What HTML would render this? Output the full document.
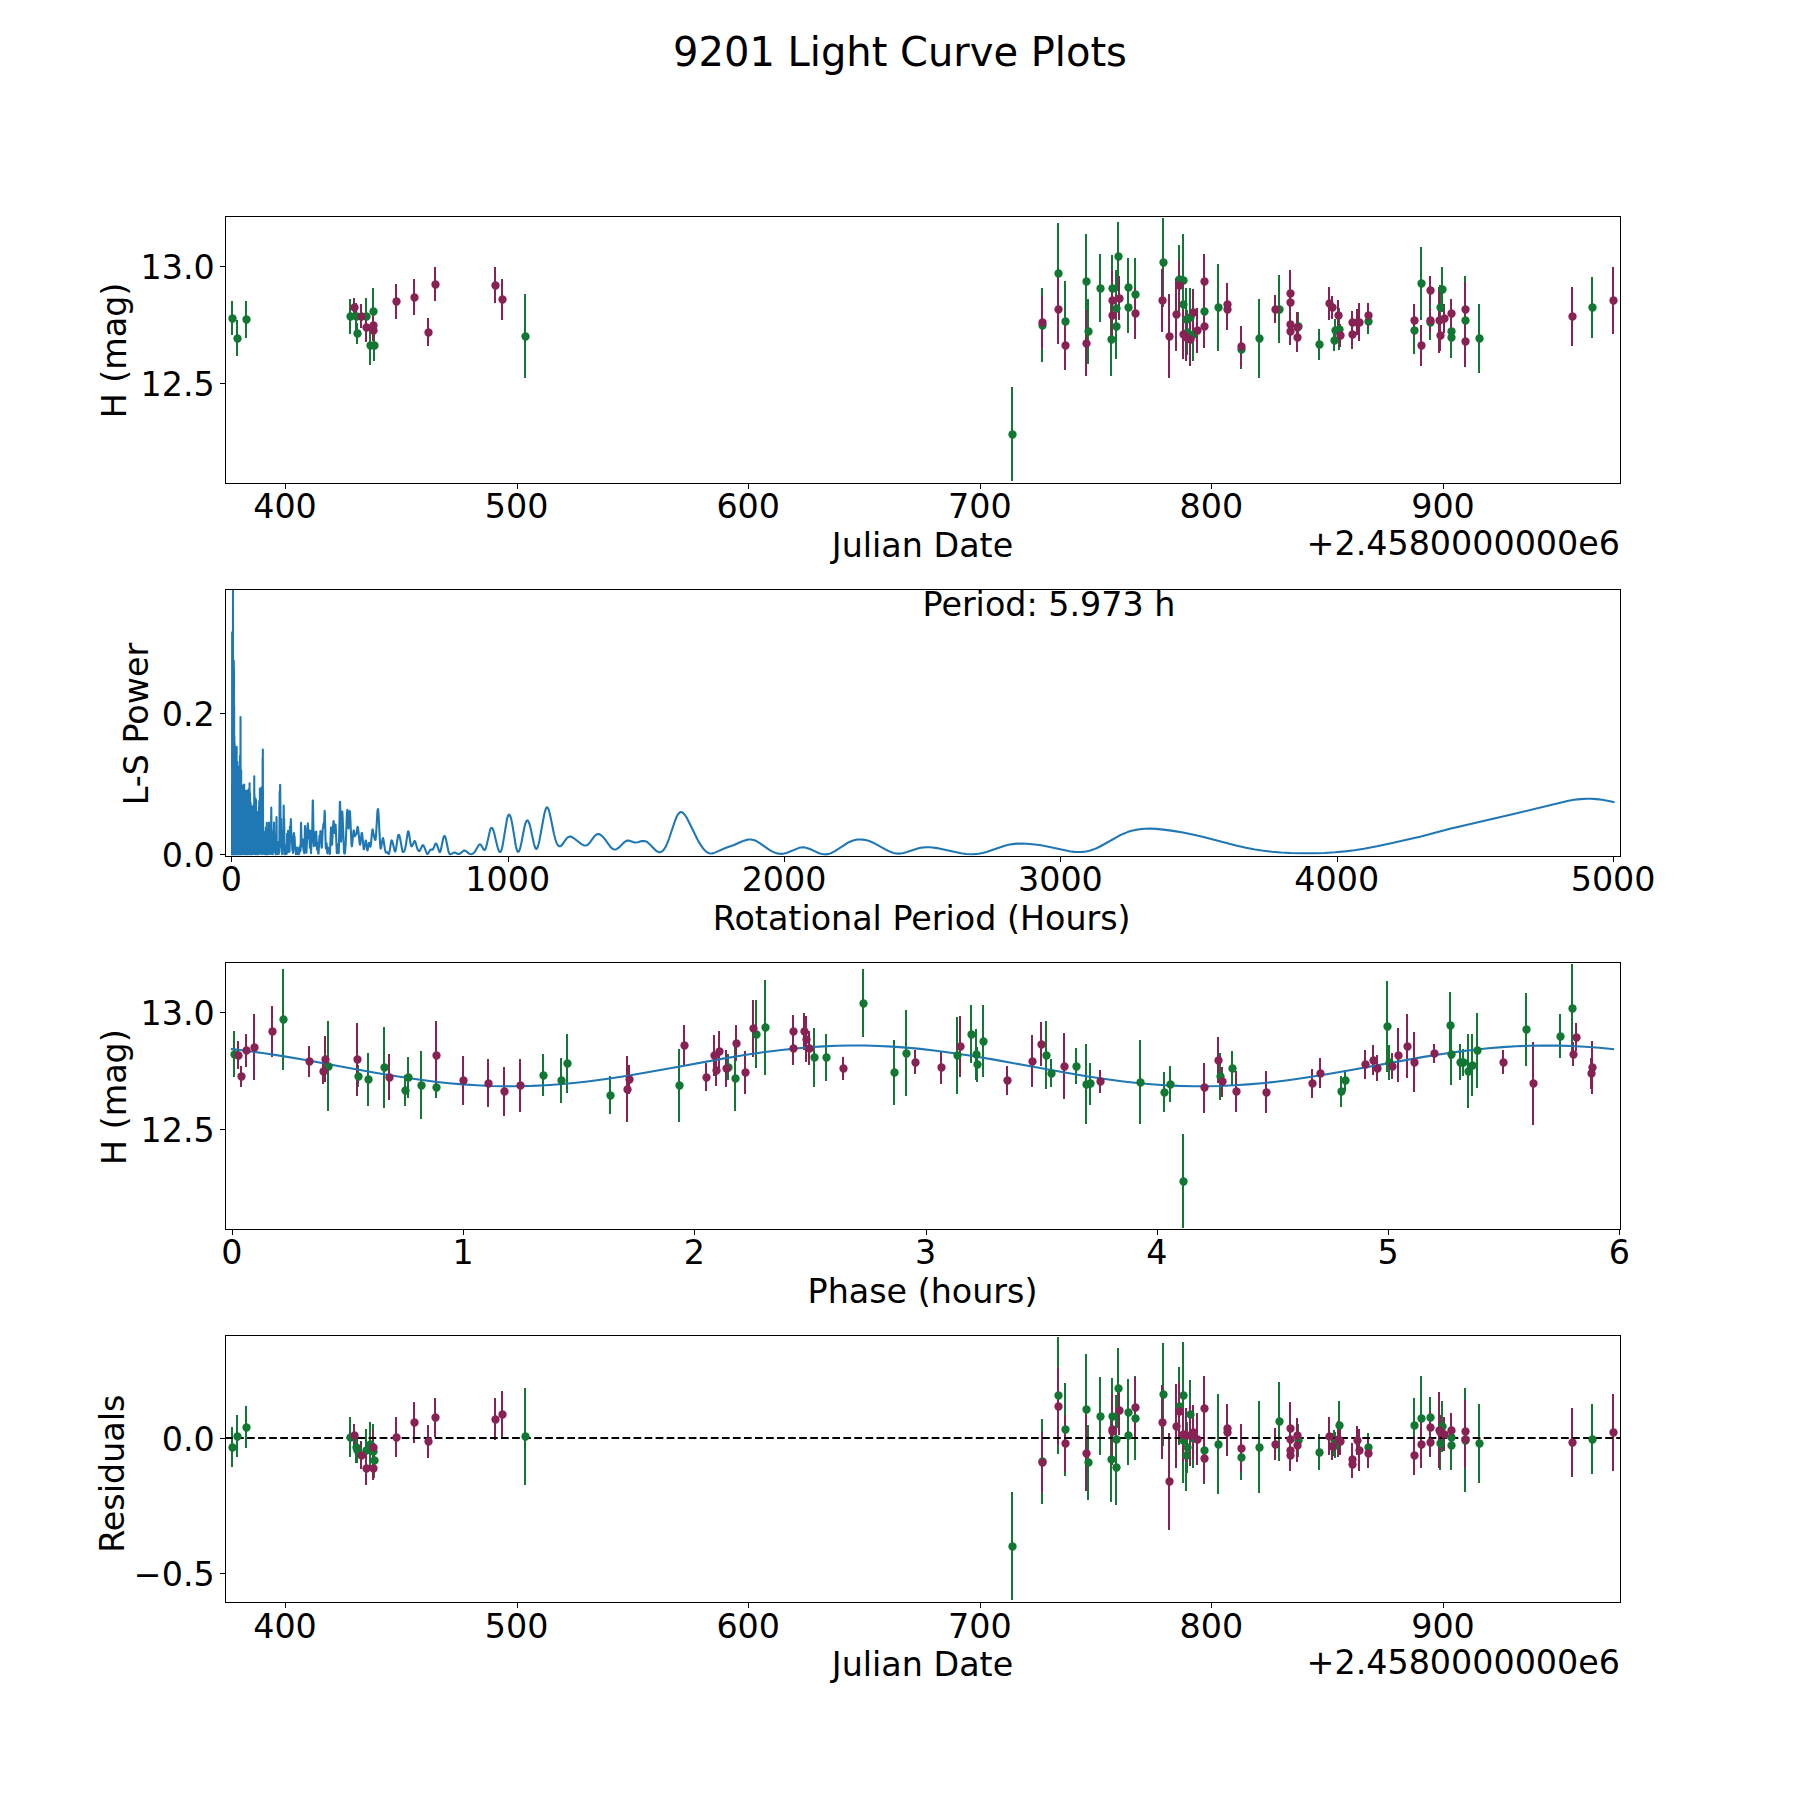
<!DOCTYPE html>
<html lang="en"><head><meta charset="utf-8"><title>9201 Light Curve Plots</title>
<style>html,body{margin:0;padding:0;background:#fff}svg{display:block}</style></head>
<body>
<svg width="1800" height="1800" viewBox="0 0 1296 1296">
 
 <style>*{stroke-linejoin:round;stroke-linecap:butt}
g[id^="LineCollection"] path,g[id^="patch_"] path,g[id^="xtick_"] use,g[id^="ytick_"] use{shape-rendering:crispEdges}
</style>
 <g id="figure_1">
  <g id="patch_1">
   <path d="M 0 1296 
L 1296 1296 
L 1296 0 
L 0 0 
z
" style="fill: #ffffff"/>
  </g>
  <g id="axes_1">
   <g id="patch_2">
    <path d="M 162 347.427 
L 1166.4 347.427 
L 1166.4 155.52 
L 162 155.52 
z
" style="fill: #ffffff"/>
   </g>
   <g id="matplotlib.axis_1">
    <g id="xtick_1">
     <g id="line2d_1">
      <defs>
       <path id="mb72ec5ad28" d="M 0 0 
L 0 3.888 
" style="stroke: #000000; stroke-width: 0.72"/>
      </defs>
      <g>
       <use href="#mb72ec5ad28" x="205.560" y="348.120" style="stroke: #000000; stroke-width: 0.72"/>
      </g>
     </g>
     <g id="text_1">
      <text style="font-size: 24px; font-family: 'DejaVu Sans', 'Liberation Sans', sans-serif; text-anchor: middle" x="205.2" y="373.051">400</text>
     </g>
    </g>
    <g id="xtick_2">
     <g id="line2d_2">
      <g>
       <use href="#mb72ec5ad28" x="372.600" y="348.120" style="stroke: #000000; stroke-width: 0.72"/>
      </g>
     </g>
     <g id="text_2">
      <text style="font-size: 24px; font-family: 'DejaVu Sans', 'Liberation Sans', sans-serif; text-anchor: middle" x="371.952" y="373.051">500</text>
     </g>
    </g>
    <g id="xtick_3">
     <g id="line2d_3">
      <g>
       <use href="#mb72ec5ad28" x="538.920" y="348.120" style="stroke: #000000; stroke-width: 0.72"/>
      </g>
     </g>
     <g id="text_3">
      <text style="font-size: 24px; font-family: 'DejaVu Sans', 'Liberation Sans', sans-serif; text-anchor: middle" x="538.704" y="373.051">600</text>
     </g>
    </g>
    <g id="xtick_4">
     <g id="line2d_4">
      <g>
       <use href="#mb72ec5ad28" x="705.960" y="348.120" style="stroke: #000000; stroke-width: 0.72"/>
      </g>
     </g>
     <g id="text_4">
      <text style="font-size: 24px; font-family: 'DejaVu Sans', 'Liberation Sans', sans-serif; text-anchor: middle" x="705.456" y="373.051">700</text>
     </g>
    </g>
    <g id="xtick_5">
     <g id="line2d_5">
      <g>
       <use href="#mb72ec5ad28" x="872.280" y="348.120" style="stroke: #000000; stroke-width: 0.72"/>
      </g>
     </g>
     <g id="text_5">
      <text style="font-size: 24px; font-family: 'DejaVu Sans', 'Liberation Sans', sans-serif; text-anchor: middle" x="872.208" y="373.051">800</text>
     </g>
    </g>
    <g id="xtick_6">
     <g id="line2d_6">
      <g>
       <use href="#mb72ec5ad28" x="1039.320" y="348.120" style="stroke: #000000; stroke-width: 0.72"/>
      </g>
     </g>
     <g id="text_6">
      <text style="font-size: 24px; font-family: 'DejaVu Sans', 'Liberation Sans', sans-serif; text-anchor: middle" x="1038.96" y="373.051">900</text>
     </g>
    </g>
    <g id="text_7">
     <text style="font-size: 24px; font-family: 'DejaVu Sans', 'Liberation Sans', sans-serif; text-anchor: middle" x="664.200" y="401.143">Julian Date</text>
    </g>
    <g id="text_8">
     <text style="font-size: 24px; font-family: 'DejaVu Sans', 'Liberation Sans', sans-serif; text-anchor: end" x="1166.4" y="399.279">+2.4580000000e6</text>
    </g>
   </g>
   <g id="matplotlib.axis_2">
    <g id="ytick_1">
     <g id="line2d_7">
      <defs>
       <path id="m1af1ae3523" d="M 0 0 
L -3.888 0 
" style="stroke: #000000; stroke-width: 0.72"/>
      </defs>
      <g>
       <use href="#m1af1ae3523" x="162.360" y="276.120" style="stroke: #000000; stroke-width: 0.72"/>
      </g>
     </g>
     <g id="text_9">
      <text style="font-size: 24px; font-family: 'DejaVu Sans', 'Liberation Sans', sans-serif; text-anchor: end" x="154.612" y="284.950">12.5</text>
     </g>
    </g>
    <g id="ytick_2">
     <g id="line2d_8">
      <g>
       <use href="#m1af1ae3523" x="162.360" y="191.880" style="stroke: #000000; stroke-width: 0.72"/>
      </g>
     </g>
     <g id="text_10">
      <text style="font-size: 24px; font-family: 'DejaVu Sans', 'Liberation Sans', sans-serif; text-anchor: end" x="154.612" y="200.566">13.0</text>
     </g>
    </g>
    <g id="text_11">
     <text style="font-size: 24px; font-family: 'DejaVu Sans', 'Liberation Sans', sans-serif; text-anchor: middle" x="90.959" y="252.338" transform="rotate(-90 90.959 252.338)">H (mag)</text>
    </g>
   </g>
   <g id="LineCollection_1">
    <path d="M 167.04 216.828 
L 167.04 241.524 
" clip-path="url(#p9b063a7ad4)" style="fill: none; stroke: #117733; stroke-width: 1.44"/>
    <path d="M 170.64 230.652 
L 170.64 256.5 
" clip-path="url(#p9b063a7ad4)" style="fill: none; stroke: #117733; stroke-width: 1.44"/>
    <path d="M 177.12 216.792 
L 177.12 243.288 
" clip-path="url(#p9b063a7ad4)" style="fill: none; stroke: #117733; stroke-width: 1.44"/>
    <path d="M 252 215.352 
L 252 240.408 
" clip-path="url(#p9b063a7ad4)" style="fill: none; stroke: #117733; stroke-width: 1.44"/>
    <path d="M 256.32 218.088 
L 256.32 237.672 
" clip-path="url(#p9b063a7ad4)" style="fill: none; stroke: #117733; stroke-width: 1.44"/>
    <path d="M 257.04 232.38 
L 257.04 247.86 
" clip-path="url(#p9b063a7ad4)" style="fill: none; stroke: #117733; stroke-width: 1.44"/>
    <path d="M 263.52 214.776 
L 263.52 240.984 
" clip-path="url(#p9b063a7ad4)" style="fill: none; stroke: #117733; stroke-width: 1.44"/>
    <path d="M 268.56 207.216 
L 268.56 241.344 
" clip-path="url(#p9b063a7ad4)" style="fill: none; stroke: #117733; stroke-width: 1.44"/>
    <path d="M 266.4 234.432 
L 266.4 263.088 
" clip-path="url(#p9b063a7ad4)" style="fill: none; stroke: #117733; stroke-width: 1.44"/>
    <path d="M 269.28 237.636 
L 269.28 259.884 
" clip-path="url(#p9b063a7ad4)" style="fill: none; stroke: #117733; stroke-width: 1.44"/>
    <path d="M 378 211.536 
L 378 272.304 
" clip-path="url(#p9b063a7ad4)" style="fill: none; stroke: #117733; stroke-width: 1.44"/>
    <path d="M 728.64 278.856 
L 728.64 346.392 
" clip-path="url(#p9b063a7ad4)" style="fill: none; stroke: #117733; stroke-width: 1.44"/>
    <path d="M 750.24 207.612 
L 750.24 260.676 
" clip-path="url(#p9b063a7ad4)" style="fill: none; stroke: #117733; stroke-width: 1.44"/>
    <path d="M 761.76 160.236 
L 761.76 233.604 
" clip-path="url(#p9b063a7ad4)" style="fill: none; stroke: #117733; stroke-width: 1.44"/>
    <path d="M 766.8 202.176 
L 766.8 260.64 
" clip-path="url(#p9b063a7ad4)" style="fill: none; stroke: #117733; stroke-width: 1.44"/>
    <path d="M 781.92 168.156 
L 781.92 237.204 
" clip-path="url(#p9b063a7ad4)" style="fill: none; stroke: #117733; stroke-width: 1.44"/>
    <path d="M 783.36 215.136 
L 783.36 262.08 
" clip-path="url(#p9b063a7ad4)" style="fill: none; stroke: #117733; stroke-width: 1.44"/>
    <path d="M 792 183.168 
L 792 231.984 
" clip-path="url(#p9b063a7ad4)" style="fill: none; stroke: #117733; stroke-width: 1.44"/>
    <path d="M 800.64 183.456 
L 800.64 231.696 
" clip-path="url(#p9b063a7ad4)" style="fill: none; stroke: #117733; stroke-width: 1.44"/>
    <path d="M 804.96 159.876 
L 804.96 209.484 
" clip-path="url(#p9b063a7ad4)" style="fill: none; stroke: #117733; stroke-width: 1.44"/>
    <path d="M 803.52 194.184 
L 803.52 249.768 
" clip-path="url(#p9b063a7ad4)" style="fill: none; stroke: #117733; stroke-width: 1.44"/>
    <path d="M 803.52 211.356 
L 803.52 258.66 
" clip-path="url(#p9b063a7ad4)" style="fill: none; stroke: #117733; stroke-width: 1.44"/>
    <path d="M 799.92 218.304 
L 799.92 270.864 
" clip-path="url(#p9b063a7ad4)" style="fill: none; stroke: #117733; stroke-width: 1.44"/>
    <path d="M 812.16 185.976 
L 812.16 228.024 
" clip-path="url(#p9b063a7ad4)" style="fill: none; stroke: #117733; stroke-width: 1.44"/>
    <path d="M 812.16 202.824 
L 812.16 239.688 
" clip-path="url(#p9b063a7ad4)" style="fill: none; stroke: #117733; stroke-width: 1.44"/>
    <path d="M 817.2 185.796 
L 817.2 238.284 
" clip-path="url(#p9b063a7ad4)" style="fill: none; stroke: #117733; stroke-width: 1.44"/>
    <path d="M 837.36 156.852 
L 837.36 221.148 
" clip-path="url(#p9b063a7ad4)" style="fill: none; stroke: #117733; stroke-width: 1.44"/>
    <path d="M 848.88 176.58 
L 848.88 225.18 
" clip-path="url(#p9b063a7ad4)" style="fill: none; stroke: #117733; stroke-width: 1.44"/>
    <path d="M 851.76 168.696 
L 851.76 234.504 
" clip-path="url(#p9b063a7ad4)" style="fill: none; stroke: #117733; stroke-width: 1.44"/>
    <path d="M 851.76 192.204 
L 851.76 246.132 
" clip-path="url(#p9b063a7ad4)" style="fill: none; stroke: #117733; stroke-width: 1.44"/>
    <path d="M 853.92 207.54 
L 853.92 252.108 
" clip-path="url(#p9b063a7ad4)" style="fill: none; stroke: #117733; stroke-width: 1.44"/>
    <path d="M 856.8 207.36 
L 856.8 249.984 
" clip-path="url(#p9b063a7ad4)" style="fill: none; stroke: #117733; stroke-width: 1.44"/>
    <path d="M 858.96 221.688 
L 858.96 259.704 
" clip-path="url(#p9b063a7ad4)" style="fill: none; stroke: #117733; stroke-width: 1.44"/>
    <path d="M 854.64 223.416 
L 854.64 255.672 
" clip-path="url(#p9b063a7ad4)" style="fill: none; stroke: #117733; stroke-width: 1.44"/>
    <path d="M 866.88 203.076 
L 866.88 245.34 
" clip-path="url(#p9b063a7ad4)" style="fill: none; stroke: #117733; stroke-width: 1.44"/>
    <path d="M 876.96 190.152 
L 876.96 252.648 
" clip-path="url(#p9b063a7ad4)" style="fill: none; stroke: #117733; stroke-width: 1.44"/>
    <path d="M 893.52 237.78 
L 893.52 265.356 
" clip-path="url(#p9b063a7ad4)" style="fill: none; stroke: #117733; stroke-width: 1.44"/>
    <path d="M 906.48 214.92 
L 906.48 272.376 
" clip-path="url(#p9b063a7ad4)" style="fill: none; stroke: #117733; stroke-width: 1.44"/>
    <path d="M 920.88 198.252 
L 920.88 247.14 
" clip-path="url(#p9b063a7ad4)" style="fill: none; stroke: #117733; stroke-width: 1.44"/>
    <path d="M 934.56 224.496 
L 934.56 244.944 
" clip-path="url(#p9b063a7ad4)" style="fill: none; stroke: #117733; stroke-width: 1.44"/>
    <path d="M 949.68 236.664 
L 949.68 259.128 
" clip-path="url(#p9b063a7ad4)" style="fill: none; stroke: #117733; stroke-width: 1.44"/>
    <path d="M 961.2 229.932 
L 961.2 245.988 
" clip-path="url(#p9b063a7ad4)" style="fill: none; stroke: #117733; stroke-width: 1.44"/>
    <path d="M 964.08 221.868 
L 964.08 251.892 
" clip-path="url(#p9b063a7ad4)" style="fill: none; stroke: #117733; stroke-width: 1.44"/>
    <path d="M 960.48 237.276 
L 960.48 253.044 
" clip-path="url(#p9b063a7ad4)" style="fill: none; stroke: #117733; stroke-width: 1.44"/>
    <path d="M 984.96 222.408 
L 984.96 240.552 
" clip-path="url(#p9b063a7ad4)" style="fill: none; stroke: #117733; stroke-width: 1.44"/>
    <path d="M 1018.08 220.824 
L 1018.08 255.096 
" clip-path="url(#p9b063a7ad4)" style="fill: none; stroke: #117733; stroke-width: 1.44"/>
    <path d="M 1023.12 177.516 
L 1023.12 230.292 
" clip-path="url(#p9b063a7ad4)" style="fill: none; stroke: #117733; stroke-width: 1.44"/>
    <path d="M 1029.6 219.564 
L 1029.6 244.692 
" clip-path="url(#p9b063a7ad4)" style="fill: none; stroke: #117733; stroke-width: 1.44"/>
    <path d="M 1038.24 192.456 
L 1038.24 224.424 
" clip-path="url(#p9b063a7ad4)" style="fill: none; stroke: #117733; stroke-width: 1.44"/>
    <path d="M 1036.8 204.876 
L 1036.8 237.924 
" clip-path="url(#p9b063a7ad4)" style="fill: none; stroke: #117733; stroke-width: 1.44"/>
    <path d="M 1044.72 223.632 
L 1044.72 253.008 
" clip-path="url(#p9b063a7ad4)" style="fill: none; stroke: #117733; stroke-width: 1.44"/>
    <path d="M 1044.72 227.88 
L 1044.72 258.12 
" clip-path="url(#p9b063a7ad4)" style="fill: none; stroke: #117733; stroke-width: 1.44"/>
    <path d="M 1054.8 198.396 
L 1054.8 263.124 
" clip-path="url(#p9b063a7ad4)" style="fill: none; stroke: #117733; stroke-width: 1.44"/>
    <path d="M 1064.88 218.88 
L 1064.88 268.416 
" clip-path="url(#p9b063a7ad4)" style="fill: none; stroke: #117733; stroke-width: 1.44"/>
    <path d="M 1146.24 199.44 
L 1146.24 243.36 
" clip-path="url(#p9b063a7ad4)" style="fill: none; stroke: #117733; stroke-width: 1.44"/>
   </g>
   <g id="LineCollection_2">
    <path d="M 254.88 214.236 
L 254.88 228.564 
" clip-path="url(#p9b063a7ad4)" style="fill: none; stroke: #882255; stroke-width: 1.44"/>
    <path d="M 259.92 219.132 
L 259.92 236.34 
" clip-path="url(#p9b063a7ad4)" style="fill: none; stroke: #882255; stroke-width: 1.44"/>
    <path d="M 263.52 225.324 
L 263.52 246.276 
" clip-path="url(#p9b063a7ad4)" style="fill: none; stroke: #882255; stroke-width: 1.44"/>
    <path d="M 268.56 223.092 
L 268.56 244.908 
" clip-path="url(#p9b063a7ad4)" style="fill: none; stroke: #882255; stroke-width: 1.44"/>
    <path d="M 268.56 230.544 
L 268.56 245.376 
" clip-path="url(#p9b063a7ad4)" style="fill: none; stroke: #882255; stroke-width: 1.44"/>
    <path d="M 285.12 204.66 
L 285.12 229.5 
" clip-path="url(#p9b063a7ad4)" style="fill: none; stroke: #882255; stroke-width: 1.44"/>
    <path d="M 298.08 201.06 
L 298.08 226.62 
" clip-path="url(#p9b063a7ad4)" style="fill: none; stroke: #882255; stroke-width: 1.44"/>
    <path d="M 308.16 228.96 
L 308.16 249.408 
" clip-path="url(#p9b063a7ad4)" style="fill: none; stroke: #882255; stroke-width: 1.44"/>
    <path d="M 313.2 192.564 
L 313.2 216.972 
" clip-path="url(#p9b063a7ad4)" style="fill: none; stroke: #882255; stroke-width: 1.44"/>
    <path d="M 356.4 192.204 
L 356.4 218.484 
" clip-path="url(#p9b063a7ad4)" style="fill: none; stroke: #882255; stroke-width: 1.44"/>
    <path d="M 361.44 200.556 
L 361.44 230.292 
" clip-path="url(#p9b063a7ad4)" style="fill: none; stroke: #882255; stroke-width: 1.44"/>
    <path d="M 750.24 213.048 
L 750.24 251.064 
" clip-path="url(#p9b063a7ad4)" style="fill: none; stroke: #882255; stroke-width: 1.44"/>
    <path d="M 761.76 197.928 
L 761.76 247.608 
" clip-path="url(#p9b063a7ad4)" style="fill: none; stroke: #882255; stroke-width: 1.44"/>
    <path d="M 766.8 230.976 
L 766.8 266.4 
" clip-path="url(#p9b063a7ad4)" style="fill: none; stroke: #882255; stroke-width: 1.44"/>
    <path d="M 781.92 223.524 
L 781.92 270.828 
" clip-path="url(#p9b063a7ad4)" style="fill: none; stroke: #882255; stroke-width: 1.44"/>
    <path d="M 800.64 194.184 
L 800.64 238.248 
" clip-path="url(#p9b063a7ad4)" style="fill: none; stroke: #882255; stroke-width: 1.44"/>
    <path d="M 805.68 199.008 
L 805.68 230.4 
" clip-path="url(#p9b063a7ad4)" style="fill: none; stroke: #882255; stroke-width: 1.44"/>
    <path d="M 800.64 210.816 
L 800.64 243.648 
" clip-path="url(#p9b063a7ad4)" style="fill: none; stroke: #882255; stroke-width: 1.44"/>
    <path d="M 817.2 207.072 
L 817.2 244.368 
" clip-path="url(#p9b063a7ad4)" style="fill: none; stroke: #882255; stroke-width: 1.44"/>
    <path d="M 836.64 193.356 
L 836.64 239.22 
" clip-path="url(#p9b063a7ad4)" style="fill: none; stroke: #882255; stroke-width: 1.44"/>
    <path d="M 841.68 212.04 
L 841.68 272.376 
" clip-path="url(#p9b063a7ad4)" style="fill: none; stroke: #882255; stroke-width: 1.44"/>
    <path d="M 846.72 200.124 
L 846.72 252.612 
" clip-path="url(#p9b063a7ad4)" style="fill: none; stroke: #882255; stroke-width: 1.44"/>
    <path d="M 848.88 186.876 
L 848.88 223.524 
" clip-path="url(#p9b063a7ad4)" style="fill: none; stroke: #882255; stroke-width: 1.44"/>
    <path d="M 858.96 208.224 
L 858.96 241.92 
" clip-path="url(#p9b063a7ad4)" style="fill: none; stroke: #882255; stroke-width: 1.44"/>
    <path d="M 851.76 223.128 
L 851.76 258.264 
" clip-path="url(#p9b063a7ad4)" style="fill: none; stroke: #882255; stroke-width: 1.44"/>
    <path d="M 853.92 225.504 
L 853.92 259.776 
" clip-path="url(#p9b063a7ad4)" style="fill: none; stroke: #882255; stroke-width: 1.44"/>
    <path d="M 856.8 225.108 
L 856.8 263.484 
" clip-path="url(#p9b063a7ad4)" style="fill: none; stroke: #882255; stroke-width: 1.44"/>
    <path d="M 861.84 221.616 
L 861.84 254.16 
" clip-path="url(#p9b063a7ad4)" style="fill: none; stroke: #882255; stroke-width: 1.44"/>
    <path d="M 866.88 182.52 
L 866.88 222.84 
" clip-path="url(#p9b063a7ad4)" style="fill: none; stroke: #882255; stroke-width: 1.44"/>
    <path d="M 866.88 219.492 
L 866.88 250.524 
" clip-path="url(#p9b063a7ad4)" style="fill: none; stroke: #882255; stroke-width: 1.44"/>
    <path d="M 883.44 204.084 
L 883.44 233.964 
" clip-path="url(#p9b063a7ad4)" style="fill: none; stroke: #882255; stroke-width: 1.44"/>
    <path d="M 883.44 208.368 
L 883.44 237.744 
" clip-path="url(#p9b063a7ad4)" style="fill: none; stroke: #882255; stroke-width: 1.44"/>
    <path d="M 893.52 234.648 
L 893.52 264.456 
" clip-path="url(#p9b063a7ad4)" style="fill: none; stroke: #882255; stroke-width: 1.44"/>
    <path d="M 918 212.724 
L 918 232.668 
" clip-path="url(#p9b063a7ad4)" style="fill: none; stroke: #882255; stroke-width: 1.44"/>
    <path d="M 928.8 194.616 
L 928.8 228.024 
" clip-path="url(#p9b063a7ad4)" style="fill: none; stroke: #882255; stroke-width: 1.44"/>
    <path d="M 928.8 206.064 
L 928.8 229.536 
" clip-path="url(#p9b063a7ad4)" style="fill: none; stroke: #882255; stroke-width: 1.44"/>
    <path d="M 928.8 224.532 
L 928.8 242.748 
" clip-path="url(#p9b063a7ad4)" style="fill: none; stroke: #882255; stroke-width: 1.44"/>
    <path d="M 928.8 228.78 
L 928.8 248.58 
" clip-path="url(#p9b063a7ad4)" style="fill: none; stroke: #882255; stroke-width: 1.44"/>
    <path d="M 933.84 224.316 
L 933.84 246.564 
" clip-path="url(#p9b063a7ad4)" style="fill: none; stroke: #882255; stroke-width: 1.44"/>
    <path d="M 933.84 232.452 
L 933.84 253.548 
" clip-path="url(#p9b063a7ad4)" style="fill: none; stroke: #882255; stroke-width: 1.44"/>
    <path d="M 956.88 206.64 
L 956.88 230.4 
" clip-path="url(#p9b063a7ad4)" style="fill: none; stroke: #882255; stroke-width: 1.44"/>
    <path d="M 959.04 212.868 
L 959.04 229.644 
" clip-path="url(#p9b063a7ad4)" style="fill: none; stroke: #882255; stroke-width: 1.44"/>
    <path d="M 963.36 215.676 
L 963.36 238.644 
" clip-path="url(#p9b063a7ad4)" style="fill: none; stroke: #882255; stroke-width: 1.44"/>
    <path d="M 964.8 233.388 
L 964.8 249.732 
" clip-path="url(#p9b063a7ad4)" style="fill: none; stroke: #882255; stroke-width: 1.44"/>
    <path d="M 973.44 223.956 
L 973.44 240.444 
" clip-path="url(#p9b063a7ad4)" style="fill: none; stroke: #882255; stroke-width: 1.44"/>
    <path d="M 973.44 230.436 
L 973.44 251.244 
" clip-path="url(#p9b063a7ad4)" style="fill: none; stroke: #882255; stroke-width: 1.44"/>
    <path d="M 977.04 222.768 
L 977.04 240.912 
" clip-path="url(#p9b063a7ad4)" style="fill: none; stroke: #882255; stroke-width: 1.44"/>
    <path d="M 978.48 218.448 
L 978.48 245.232 
" clip-path="url(#p9b063a7ad4)" style="fill: none; stroke: #882255; stroke-width: 1.44"/>
    <path d="M 984.96 218.304 
L 984.96 236.016 
" clip-path="url(#p9b063a7ad4)" style="fill: none; stroke: #882255; stroke-width: 1.44"/>
    <path d="M 1018.08 218.844 
L 1018.08 242.676 
" clip-path="url(#p9b063a7ad4)" style="fill: none; stroke: #882255; stroke-width: 1.44"/>
    <path d="M 1023.12 233.712 
L 1023.12 263.376 
" clip-path="url(#p9b063a7ad4)" style="fill: none; stroke: #882255; stroke-width: 1.44"/>
    <path d="M 1029.6 198.756 
L 1029.6 219.564 
" clip-path="url(#p9b063a7ad4)" style="fill: none; stroke: #882255; stroke-width: 1.44"/>
    <path d="M 1029.6 221.508 
L 1029.6 240.012 
" clip-path="url(#p9b063a7ad4)" style="fill: none; stroke: #882255; stroke-width: 1.44"/>
    <path d="M 1036.08 206.928 
L 1036.08 254.304 
" clip-path="url(#p9b063a7ad4)" style="fill: none; stroke: #882255; stroke-width: 1.44"/>
    <path d="M 1039.68 218.664 
L 1039.68 239.688 
" clip-path="url(#p9b063a7ad4)" style="fill: none; stroke: #882255; stroke-width: 1.44"/>
    <path d="M 1036.8 230.544 
L 1036.8 252.576 
" clip-path="url(#p9b063a7ad4)" style="fill: none; stroke: #882255; stroke-width: 1.44"/>
    <path d="M 1044.72 214.956 
L 1044.72 236.484 
" clip-path="url(#p9b063a7ad4)" style="fill: none; stroke: #882255; stroke-width: 1.44"/>
    <path d="M 1054.8 203.256 
L 1054.8 242.424 
" clip-path="url(#p9b063a7ad4)" style="fill: none; stroke: #882255; stroke-width: 1.44"/>
    <path d="M 1054.8 227.772 
L 1054.8 263.988 
" clip-path="url(#p9b063a7ad4)" style="fill: none; stroke: #882255; stroke-width: 1.44"/>
    <path d="M 1131.84 206.28 
L 1131.84 249.192 
" clip-path="url(#p9b063a7ad4)" style="fill: none; stroke: #882255; stroke-width: 1.44"/>
    <path d="M 1161.36 192.276 
L 1161.36 240.444 
" clip-path="url(#p9b063a7ad4)" style="fill: none; stroke: #882255; stroke-width: 1.44"/>
   </g>
   <g id="line2d_9">
    <defs>
     <path id="m9075a9afd1" d="M 0 3 
C 0.795 3 1.558 2.683 2.121 2.121 
C 2.683 1.558 3 0.795 3 0 
C 3 -0.795 2.683 -1.558 2.121 -2.121 
C 1.558 -2.683 0.795 -3 0 -3 
C -0.795 -3 -1.558 -2.683 -2.121 -2.121 
C -2.683 -1.558 -3 -0.795 -3 0 
C -3 0.795 -2.683 1.558 -2.121 2.121 
C -1.558 2.683 -0.795 3 0 3 
z
"/>
    </defs>
    <g clip-path="url(#p9b063a7ad4)">
     <use href="#m9075a9afd1" x="167.4" y="229.32" style="fill: #117733"/>
     <use href="#m9075a9afd1" x="171" y="243.72" style="fill: #117733"/>
     <use href="#m9075a9afd1" x="177.48" y="230.04" style="fill: #117733"/>
     <use href="#m9075a9afd1" x="252.36" y="227.88" style="fill: #117733"/>
     <use href="#m9075a9afd1" x="256.68" y="227.88" style="fill: #117733"/>
     <use href="#m9075a9afd1" x="257.4" y="240.12" style="fill: #117733"/>
     <use href="#m9075a9afd1" x="263.88" y="227.88" style="fill: #117733"/>
     <use href="#m9075a9afd1" x="268.92" y="224.28" style="fill: #117733"/>
     <use href="#m9075a9afd1" x="266.76" y="248.76" style="fill: #117733"/>
     <use href="#m9075a9afd1" x="269.64" y="248.76" style="fill: #117733"/>
     <use href="#m9075a9afd1" x="378.36" y="242.28" style="fill: #117733"/>
     <use href="#m9075a9afd1" x="729" y="312.84" style="fill: #117733"/>
     <use href="#m9075a9afd1" x="750.6" y="234.36" style="fill: #117733"/>
     <use href="#m9075a9afd1" x="762.12" y="196.92" style="fill: #117733"/>
     <use href="#m9075a9afd1" x="767.16" y="231.48" style="fill: #117733"/>
     <use href="#m9075a9afd1" x="782.28" y="202.68" style="fill: #117733"/>
     <use href="#m9075a9afd1" x="783.72" y="238.68" style="fill: #117733"/>
     <use href="#m9075a9afd1" x="792.36" y="207.72" style="fill: #117733"/>
     <use href="#m9075a9afd1" x="801" y="207.72" style="fill: #117733"/>
     <use href="#m9075a9afd1" x="805.32" y="184.68" style="fill: #117733"/>
     <use href="#m9075a9afd1" x="803.88" y="222.12" style="fill: #117733"/>
     <use href="#m9075a9afd1" x="803.88" y="235.08" style="fill: #117733"/>
     <use href="#m9075a9afd1" x="800.28" y="244.44" style="fill: #117733"/>
     <use href="#m9075a9afd1" x="812.52" y="207" style="fill: #117733"/>
     <use href="#m9075a9afd1" x="812.52" y="221.4" style="fill: #117733"/>
     <use href="#m9075a9afd1" x="817.56" y="212.04" style="fill: #117733"/>
     <use href="#m9075a9afd1" x="837.72" y="189" style="fill: #117733"/>
     <use href="#m9075a9afd1" x="849.24" y="201.24" style="fill: #117733"/>
     <use href="#m9075a9afd1" x="852.12" y="201.96" style="fill: #117733"/>
     <use href="#m9075a9afd1" x="852.12" y="219.24" style="fill: #117733"/>
     <use href="#m9075a9afd1" x="854.28" y="230.04" style="fill: #117733"/>
     <use href="#m9075a9afd1" x="857.16" y="228.6" style="fill: #117733"/>
     <use href="#m9075a9afd1" x="859.32" y="240.84" style="fill: #117733"/>
     <use href="#m9075a9afd1" x="855" y="239.4" style="fill: #117733"/>
     <use href="#m9075a9afd1" x="867.24" y="224.28" style="fill: #117733"/>
     <use href="#m9075a9afd1" x="877.32" y="221.4" style="fill: #117733"/>
     <use href="#m9075a9afd1" x="893.88" y="251.64" style="fill: #117733"/>
     <use href="#m9075a9afd1" x="906.84" y="243.72" style="fill: #117733"/>
     <use href="#m9075a9afd1" x="921.24" y="222.84" style="fill: #117733"/>
     <use href="#m9075a9afd1" x="934.92" y="235.08" style="fill: #117733"/>
     <use href="#m9075a9afd1" x="950.04" y="248.04" style="fill: #117733"/>
     <use href="#m9075a9afd1" x="961.56" y="237.96" style="fill: #117733"/>
     <use href="#m9075a9afd1" x="964.44" y="237.24" style="fill: #117733"/>
     <use href="#m9075a9afd1" x="960.84" y="245.16" style="fill: #117733"/>
     <use href="#m9075a9afd1" x="985.32" y="231.48" style="fill: #117733"/>
     <use href="#m9075a9afd1" x="1018.44" y="237.96" style="fill: #117733"/>
     <use href="#m9075a9afd1" x="1023.48" y="204.12" style="fill: #117733"/>
     <use href="#m9075a9afd1" x="1029.96" y="232.2" style="fill: #117733"/>
     <use href="#m9075a9afd1" x="1038.6" y="208.44" style="fill: #117733"/>
     <use href="#m9075a9afd1" x="1037.16" y="221.4" style="fill: #117733"/>
     <use href="#m9075a9afd1" x="1045.08" y="238.68" style="fill: #117733"/>
     <use href="#m9075a9afd1" x="1045.08" y="243" style="fill: #117733"/>
     <use href="#m9075a9afd1" x="1055.16" y="230.76" style="fill: #117733"/>
     <use href="#m9075a9afd1" x="1065.24" y="243.72" style="fill: #117733"/>
     <use href="#m9075a9afd1" x="1146.6" y="221.4" style="fill: #117733"/>
    </g>
   </g>
   <g id="line2d_10">
    <defs>
     <path id="m77076dbbe6" d="M 0 3 
C 0.795 3 1.558 2.683 2.121 2.121 
C 2.683 1.558 3 0.795 3 0 
C 3 -0.795 2.683 -1.558 2.121 -2.121 
C 1.558 -2.683 0.795 -3 0 -3 
C -0.795 -3 -1.558 -2.683 -2.121 -2.121 
C -2.683 -1.558 -3 -0.795 -3 0 
C -3 0.795 -2.683 1.558 -2.121 2.121 
C -1.558 2.683 -0.795 3 0 3 
z
"/>
    </defs>
    <g clip-path="url(#p9b063a7ad4)">
     <use href="#m77076dbbe6" x="255.24" y="221.4" style="fill: #882255"/>
     <use href="#m77076dbbe6" x="260.28" y="227.88" style="fill: #882255"/>
     <use href="#m77076dbbe6" x="263.88" y="235.8" style="fill: #882255"/>
     <use href="#m77076dbbe6" x="268.92" y="234.36" style="fill: #882255"/>
     <use href="#m77076dbbe6" x="268.92" y="237.96" style="fill: #882255"/>
     <use href="#m77076dbbe6" x="285.48" y="217.08" style="fill: #882255"/>
     <use href="#m77076dbbe6" x="298.44" y="214.2" style="fill: #882255"/>
     <use href="#m77076dbbe6" x="308.52" y="239.4" style="fill: #882255"/>
     <use href="#m77076dbbe6" x="313.56" y="204.84" style="fill: #882255"/>
     <use href="#m77076dbbe6" x="356.76" y="205.56" style="fill: #882255"/>
     <use href="#m77076dbbe6" x="361.8" y="215.64" style="fill: #882255"/>
     <use href="#m77076dbbe6" x="750.6" y="232.2" style="fill: #882255"/>
     <use href="#m77076dbbe6" x="762.12" y="222.84" style="fill: #882255"/>
     <use href="#m77076dbbe6" x="767.16" y="248.76" style="fill: #882255"/>
     <use href="#m77076dbbe6" x="782.28" y="247.32" style="fill: #882255"/>
     <use href="#m77076dbbe6" x="801" y="216.36" style="fill: #882255"/>
     <use href="#m77076dbbe6" x="806.04" y="214.92" style="fill: #882255"/>
     <use href="#m77076dbbe6" x="801" y="227.16" style="fill: #882255"/>
     <use href="#m77076dbbe6" x="817.56" y="225.72" style="fill: #882255"/>
     <use href="#m77076dbbe6" x="837" y="216.36" style="fill: #882255"/>
     <use href="#m77076dbbe6" x="842.04" y="242.28" style="fill: #882255"/>
     <use href="#m77076dbbe6" x="847.08" y="226.44" style="fill: #882255"/>
     <use href="#m77076dbbe6" x="849.24" y="205.56" style="fill: #882255"/>
     <use href="#m77076dbbe6" x="859.32" y="225" style="fill: #882255"/>
     <use href="#m77076dbbe6" x="852.12" y="240.84" style="fill: #882255"/>
     <use href="#m77076dbbe6" x="854.28" y="243" style="fill: #882255"/>
     <use href="#m77076dbbe6" x="857.16" y="244.44" style="fill: #882255"/>
     <use href="#m77076dbbe6" x="862.2" y="237.96" style="fill: #882255"/>
     <use href="#m77076dbbe6" x="867.24" y="202.68" style="fill: #882255"/>
     <use href="#m77076dbbe6" x="867.24" y="235.08" style="fill: #882255"/>
     <use href="#m77076dbbe6" x="883.8" y="219.24" style="fill: #882255"/>
     <use href="#m77076dbbe6" x="883.8" y="222.84" style="fill: #882255"/>
     <use href="#m77076dbbe6" x="893.88" y="249.48" style="fill: #882255"/>
     <use href="#m77076dbbe6" x="918.36" y="222.84" style="fill: #882255"/>
     <use href="#m77076dbbe6" x="929.16" y="211.32" style="fill: #882255"/>
     <use href="#m77076dbbe6" x="929.16" y="217.8" style="fill: #882255"/>
     <use href="#m77076dbbe6" x="929.16" y="233.64" style="fill: #882255"/>
     <use href="#m77076dbbe6" x="929.16" y="238.68" style="fill: #882255"/>
     <use href="#m77076dbbe6" x="934.2" y="235.8" style="fill: #882255"/>
     <use href="#m77076dbbe6" x="934.2" y="243" style="fill: #882255"/>
     <use href="#m77076dbbe6" x="957.24" y="218.52" style="fill: #882255"/>
     <use href="#m77076dbbe6" x="959.4" y="221.4" style="fill: #882255"/>
     <use href="#m77076dbbe6" x="963.72" y="227.16" style="fill: #882255"/>
     <use href="#m77076dbbe6" x="965.16" y="241.56" style="fill: #882255"/>
     <use href="#m77076dbbe6" x="973.8" y="232.2" style="fill: #882255"/>
     <use href="#m77076dbbe6" x="973.8" y="240.84" style="fill: #882255"/>
     <use href="#m77076dbbe6" x="977.4" y="232.2" style="fill: #882255"/>
     <use href="#m77076dbbe6" x="978.84" y="232.2" style="fill: #882255"/>
     <use href="#m77076dbbe6" x="985.32" y="227.16" style="fill: #882255"/>
     <use href="#m77076dbbe6" x="1018.44" y="230.76" style="fill: #882255"/>
     <use href="#m77076dbbe6" x="1023.48" y="248.76" style="fill: #882255"/>
     <use href="#m77076dbbe6" x="1029.96" y="209.16" style="fill: #882255"/>
     <use href="#m77076dbbe6" x="1029.96" y="230.76" style="fill: #882255"/>
     <use href="#m77076dbbe6" x="1036.44" y="230.76" style="fill: #882255"/>
     <use href="#m77076dbbe6" x="1040.04" y="229.32" style="fill: #882255"/>
     <use href="#m77076dbbe6" x="1037.16" y="241.56" style="fill: #882255"/>
     <use href="#m77076dbbe6" x="1045.08" y="225.72" style="fill: #882255"/>
     <use href="#m77076dbbe6" x="1055.16" y="222.84" style="fill: #882255"/>
     <use href="#m77076dbbe6" x="1055.16" y="245.88" style="fill: #882255"/>
     <use href="#m77076dbbe6" x="1132.2" y="227.88" style="fill: #882255"/>
     <use href="#m77076dbbe6" x="1161.72" y="216.36" style="fill: #882255"/>
    </g>
   </g>
   <g id="patch_3">
    <path d="M 162.360 348.120 L 162.360 155.880" style="fill: none; stroke: #000000; stroke-width: 0.72; stroke-linejoin: miter; stroke-linecap: square"/>
   </g>
   <g id="patch_4">
    <path d="M 1166.760 348.120 L 1166.760 155.880" style="fill: none; stroke: #000000; stroke-width: 0.72; stroke-linejoin: miter; stroke-linecap: square"/>
   </g>
   <g id="patch_5">
    <path d="M 162.360 348.120 L 1166.760 348.120" style="fill: none; stroke: #000000; stroke-width: 0.72; stroke-linejoin: miter; stroke-linecap: square"/>
   </g>
   <g id="patch_6">
    <path d="M 162.360 155.880 L 1166.760 155.880" style="fill: none; stroke: #000000; stroke-width: 0.72; stroke-linejoin: miter; stroke-linecap: square"/>
   </g>
  </g>
  <g id="axes_2">
   <g id="patch_7">
    <path d="M 162 616.098 
L 1166.4 616.098 
L 1166.4 424.190 
L 162 424.190 
z
" style="fill: #ffffff"/>
   </g>
   <g id="matplotlib.axis_3">
    <g id="xtick_7">
     <g id="line2d_11">
      <g>
       <use href="#mb72ec5ad28" x="166.680" y="616.680" style="stroke: #000000; stroke-width: 0.72"/>
      </g>
     </g>
     <g id="text_12">
      <text style="font-size: 24px; font-family: 'DejaVu Sans', 'Liberation Sans', sans-serif; text-anchor: middle" x="166.574" y="641.722">0</text>
     </g>
    </g>
    <g id="xtick_8">
     <g id="line2d_12">
      <g>
       <use href="#mb72ec5ad28" x="366.120" y="616.680" style="stroke: #000000; stroke-width: 0.72"/>
      </g>
     </g>
     <g id="text_13">
      <text style="font-size: 24px; font-family: 'DejaVu Sans', 'Liberation Sans', sans-serif; text-anchor: middle" x="365.544" y="641.722">1000</text>
     </g>
    </g>
    <g id="xtick_9">
     <g id="line2d_13">
      <g>
       <use href="#mb72ec5ad28" x="564.840" y="616.680" style="stroke: #000000; stroke-width: 0.72"/>
      </g>
     </g>
     <g id="text_14">
      <text style="font-size: 24px; font-family: 'DejaVu Sans', 'Liberation Sans', sans-serif; text-anchor: middle" x="564.515" y="641.722">2000</text>
     </g>
    </g>
    <g id="xtick_10">
     <g id="line2d_14">
      <g>
       <use href="#mb72ec5ad28" x="763.560" y="616.680" style="stroke: #000000; stroke-width: 0.72"/>
      </g>
     </g>
     <g id="text_15">
      <text style="font-size: 24px; font-family: 'DejaVu Sans', 'Liberation Sans', sans-serif; text-anchor: middle" x="763.485" y="641.722">3000</text>
     </g>
    </g>
    <g id="xtick_11">
     <g id="line2d_15">
      <g>
       <use href="#mb72ec5ad28" x="963.000" y="616.680" style="stroke: #000000; stroke-width: 0.72"/>
      </g>
     </g>
     <g id="text_16">
      <text style="font-size: 24px; font-family: 'DejaVu Sans', 'Liberation Sans', sans-serif; text-anchor: middle" x="962.456" y="641.722">4000</text>
     </g>
    </g>
    <g id="xtick_12">
     <g id="line2d_16">
      <g>
       <use href="#mb72ec5ad28" x="1161.720" y="616.680" style="stroke: #000000; stroke-width: 0.72"/>
      </g>
     </g>
     <g id="text_17">
      <text style="font-size: 24px; font-family: 'DejaVu Sans', 'Liberation Sans', sans-serif; text-anchor: middle" x="1161.426" y="641.722">5000</text>
     </g>
    </g>
    <g id="text_18">
     <text style="font-size: 24px; font-family: 'DejaVu Sans', 'Liberation Sans', sans-serif; text-anchor: middle" x="663.624" y="669.958">Rotational Period (Hours)</text>
    </g>
   </g>
   <g id="matplotlib.axis_4">
    <g id="ytick_3">
     <g id="line2d_17">
      <g>
       <use href="#m1af1ae3523" x="162.360" y="615.240" style="stroke: #000000; stroke-width: 0.72"/>
      </g>
     </g>
     <g id="text_19">
      <text style="font-size: 24px; font-family: 'DejaVu Sans', 'Liberation Sans', sans-serif; text-anchor: end" x="154.612" y="624.264">0.0</text>
     </g>
    </g>
    <g id="ytick_4">
     <g id="line2d_18">
      <g>
       <use href="#m1af1ae3523" x="162.360" y="513.720" style="stroke: #000000; stroke-width: 0.72"/>
      </g>
     </g>
     <g id="text_20">
      <text style="font-size: 24px; font-family: 'DejaVu Sans', 'Liberation Sans', sans-serif; text-anchor: end" x="154.612" y="522.478">0.2</text>
     </g>
    </g>
    <g id="text_21">
     <text style="font-size: 24px; font-family: 'DejaVu Sans', 'Liberation Sans', sans-serif; text-anchor: middle" x="106.301" y="521.297" transform="rotate(-90 106.301 521.297)">L-S Power</text>
    </g>
   </g>
   <g id="line2d_19">
    <path d="M 166.974 615.141 
L 167.070 615.142 
L 167.146 455.268 
L 167.184 615.144 
L 167.217 481.200 
L 167.260 503.194 
L 167.302 615.145 
L 167.406 479.272 
L 167.530 615.145 
L 167.594 558.418 
L 167.611 615.146 
L 167.651 615.142 
L 167.762 425.347 
L 167.838 615.126 
L 167.860 566.700 
L 167.932 563.937 
L 168.028 615.144 
L 168.042 574.820 
L 168.093 483.471 
L 168.101 615.083 
L 168.151 615.140 
L 168.154 505.004 
L 168.211 525.232 
L 168.305 615.138 
L 168.327 475.703 
L 168.378 615.050 
L 168.467 614.835 
L 168.472 481.652 
L 168.522 615.128 
L 168.588 615.116 
L 168.593 508.150 
L 168.663 615.125 
L 168.733 530.148 
L 168.737 615.107 
L 168.842 615.142 
L 168.885 563.083 
L 168.927 615.137 
L 168.940 535.242 
L 168.993 615.122 
L 169.135 566.556 
L 169.192 615.120 
L 169.244 569.978 
L 169.322 615.096 
L 169.363 541.604 
L 169.439 558.356 
L 169.493 546.190 
L 169.523 615.130 
L 169.593 567.160 
L 169.616 615.134 
L 169.642 568.271 
L 169.696 615.107 
L 169.716 615.106 
L 169.794 579.377 
L 169.830 615.129 
L 169.848 614.678 
L 169.920 548.966 
L 169.930 615.070 
L 170.016 570.561 
L 170.043 615.136 
L 170.120 615.118 
L 170.157 615.136 
L 170.224 576.140 
L 170.277 615.062 
L 170.319 575.161 
L 170.334 615.008 
L 170.385 537.707 
L 170.404 615.144 
L 170.459 567.539 
L 170.501 615.124 
L 170.570 614.784 
L 170.626 563.410 
L 170.655 615.083 
L 170.672 583.144 
L 170.717 615.130 
L 170.790 615.064 
L 170.906 548.455 
L 170.947 615.137 
L 171.057 591.384 
L 171.060 614.576 
L 171.073 615.126 
L 171.108 577.259 
L 171.149 615.145 
L 171.174 584.220 
L 171.218 615.115 
L 171.236 556.831 
L 171.342 615.125 
L 171.447 614.981 
L 171.463 558.083 
L 171.554 615.139 
L 171.590 615.003 
L 171.622 551.722 
L 171.686 615.131 
L 171.709 594.417 
L 171.777 614.406 
L 171.824 615.105 
L 171.883 562.970 
L 171.912 614.863 
L 171.945 559.773 
L 171.979 614.068 
L 172.066 615.060 
L 172.094 553.252 
L 172.127 615.118 
L 172.165 573.987 
L 172.234 588.082 
L 172.334 615.118 
L 172.426 561.331 
L 172.537 615.138 
L 172.618 614.576 
L 172.638 577.599 
L 172.687 614.786 
L 172.713 596.067 
L 172.755 614.436 
L 172.780 544.234 
L 172.845 614.329 
L 172.899 615.109 
L 172.967 566.287 
L 173.009 615.128 
L 173.044 581.625 
L 173.083 614.802 
L 173.126 580.576 
L 173.175 516.264 
L 173.210 615.011 
L 173.247 580.386 
L 173.317 615.097 
L 173.360 580.312 
L 173.377 582.517 
L 173.429 615.081 
L 173.487 575.232 
L 173.531 602.063 
L 173.583 615.139 
L 173.596 614.249 
L 173.621 554.649 
L 173.677 600.881 
L 173.714 615.091 
L 173.750 614.897 
L 173.770 579.518 
L 173.842 602.066 
L 173.877 614.954 
L 173.919 600.335 
L 173.984 613.727 
L 174.015 581.794 
L 174.038 615.114 
L 174.074 602.624 
L 174.138 615.044 
L 174.148 598.533 
L 174.186 581.662 
L 174.227 614.775 
L 174.300 594.012 
L 174.319 581.131 
L 174.374 615.057 
L 174.402 613.953 
L 174.493 587.288 
L 174.520 610.737 
L 174.566 613.427 
L 174.580 571.442 
L 174.657 614.875 
L 174.676 612.892 
L 174.731 572.295 
L 174.757 614.968 
L 174.857 613.419 
L 174.913 565.607 
L 174.962 598.283 
L 174.984 615.058 
L 175.032 603.912 
L 175.100 615.040 
L 175.131 614.752 
L 175.212 573.270 
L 175.267 614.557 
L 175.374 613.518 
L 175.407 578.390 
L 175.451 612.365 
L 175.504 614.890 
L 175.661 570.222 
L 175.731 614.658 
L 175.767 612.720 
L 175.820 564.806 
L 175.875 612.075 
L 175.914 606.191 
L 175.933 614.828 
L 175.989 612.936 
L 176.039 572.476 
L 176.089 614.294 
L 176.173 615.086 
L 176.251 583.985 
L 176.271 614.843 
L 176.297 579.151 
L 176.334 614.622 
L 176.384 596.314 
L 176.449 613.859 
L 176.466 574.915 
L 176.549 614.886 
L 176.620 583.038 
L 176.684 614.904 
L 176.775 614.062 
L 176.859 586.171 
L 176.972 615.134 
L 176.976 615.017 
L 177.052 569.342 
L 177.217 614.900 
L 177.321 577.099 
L 177.362 589.109 
L 177.391 613.756 
L 177.416 586.806 
L 177.482 611.894 
L 177.524 615.129 
L 177.579 614.778 
L 177.609 606.550 
L 177.669 609.304 
L 177.721 614.624 
L 177.756 604.518 
L 177.840 611.130 
L 177.912 615.077 
L 177.985 569.342 
L 178.040 615.048 
L 178.138 614.073 
L 178.190 570.835 
L 178.247 608.641 
L 178.276 608.478 
L 178.339 614.941 
L 178.437 614.964 
L 178.466 595.154 
L 178.491 602.828 
L 178.511 581.386 
L 178.562 582.461 
L 178.725 614.591 
L 178.788 613.595 
L 178.862 589.912 
L 178.883 613.948 
L 178.920 607.951 
L 178.996 568.307 
L 179.116 614.125 
L 179.138 601.646 
L 179.199 571.545 
L 179.211 582.921 
L 179.284 615.132 
L 179.312 602.481 
L 179.486 615.027 
L 179.533 614.713 
L 179.688 563.992 
L 179.712 583.762 
L 179.841 611.322 
L 179.897 606.843 
L 180.010 614.965 
L 180.048 571.117 
L 180.080 579.935 
L 180.255 614.880 
L 180.375 591.033 
L 180.415 611.743 
L 180.449 588.087 
L 180.483 607.785 
L 180.523 578.115 
L 180.571 608.317 
L 180.620 614.878 
L 180.641 611.807 
L 180.703 614.920 
L 180.732 603.638 
L 180.788 615.122 
L 180.795 614.428 
L 180.831 595.581 
L 180.867 608.772 
L 180.931 603.086 
L 180.953 586.584 
L 180.982 613.208 
L 181.034 605.952 
L 181.070 612.504 
L 181.145 611.823 
L 181.212 614.736 
L 181.227 601.740 
L 181.242 585.078 
L 181.303 590.853 
L 181.403 615.141 
L 181.441 613.489 
L 181.535 603.368 
L 181.590 611.731 
L 181.646 582.632 
L 181.662 593.453 
L 181.726 615.002 
L 181.824 614.247 
L 181.898 607.116 
L 181.939 614.052 
L 181.947 612.570 
L 181.997 580.504 
L 182.081 597.260 
L 182.141 614.879 
L 182.200 609.826 
L 182.252 614.191 
L 182.330 582.653 
L 182.471 614.765 
L 182.569 599.582 
L 182.632 599.274 
L 182.696 613.642 
L 182.732 579.682 
L 182.815 589.520 
L 182.946 613.852 
L 182.956 611.804 
L 183.060 558.862 
L 183.108 606.251 
L 183.195 582.390 
L 183.243 572.138 
L 183.351 615.082 
L 183.431 615.021 
L 183.572 582.633 
L 183.613 607.994 
L 183.664 578.068 
L 183.705 606.807 
L 183.736 601.756 
L 183.746 602.733 
L 183.850 615.040 
L 183.935 603.588 
L 183.977 613.610 
L 184.030 575.212 
L 184.117 590.084 
L 184.236 614.544 
L 184.258 609.508 
L 184.369 576.131 
L 184.402 583.545 
L 184.549 612.520 
L 184.594 607.369 
L 184.617 609.404 
L 184.686 615.054 
L 184.849 603.718 
L 184.919 615.026 
L 185.086 591.981 
L 185.159 606.566 
L 185.195 592.958 
L 185.220 584.611 
L 185.380 613.755 
L 185.430 613.767 
L 185.480 602.062 
L 185.530 615.126 
L 185.695 605.448 
L 185.773 597.581 
L 185.825 600.197 
L 185.916 612.147 
L 185.996 610.302 
L 186.062 586.899 
L 186.129 611.983 
L 186.196 601.340 
L 186.264 614.589 
L 186.333 611.327 
L 186.415 601.811 
L 186.485 580.925 
L 186.582 611.817 
L 186.611 599.041 
L 186.639 576.704 
L 186.696 610.862 
L 186.710 614.890 
L 186.781 611.127 
L 186.853 605.658 
L 186.911 612.235 
L 186.926 609.638 
L 187.146 567.736 
L 187.221 605.653 
L 187.296 594.338 
L 187.341 606.703 
L 187.357 605.324 
L 187.417 574.924 
L 187.494 583.515 
L 187.540 570.752 
L 187.571 572.635 
L 187.665 599.583 
L 187.743 594.994 
L 187.934 612.625 
L 188.014 597.360 
L 188.063 606.551 
L 188.111 603.088 
L 188.128 606.478 
L 188.160 614.730 
L 188.193 607.522 
L 188.342 566.822 
L 188.392 588.066 
L 188.442 580.135 
L 188.611 615.095 
L 188.646 612.621 
L 188.749 592.110 
L 188.783 603.461 
L 188.818 610.263 
L 188.853 597.084 
L 188.905 573.141 
L 188.940 582.305 
L 189.011 606.405 
L 189.100 545.707 
L 189.135 554.430 
L 189.171 575.005 
L 189.207 557.775 
L 189.243 539.593 
L 189.298 566.807 
L 189.499 613.225 
L 189.554 614.745 
L 189.591 614.351 
L 189.704 606.918 
L 189.723 607.316 
L 189.798 614.041 
L 189.874 612.852 
L 190.086 600.099 
L 190.183 611.059 
L 190.242 610.490 
L 190.282 609.557 
L 190.321 612.173 
L 190.361 610.402 
L 190.421 605.414 
L 190.441 608.789 
L 190.481 614.953 
L 190.521 611.705 
L 190.561 609.102 
L 190.602 613.314 
L 190.622 613.825 
L 190.642 611.734 
L 190.704 603.149 
L 190.745 608.172 
L 190.806 614.988 
L 190.848 613.296 
L 190.889 615.001 
L 190.910 613.945 
L 190.993 598.508 
L 191.035 609.887 
L 191.077 614.729 
L 191.141 611.296 
L 191.226 606.100 
L 191.269 609.320 
L 191.290 609.899 
L 191.312 608.671 
L 191.398 595.648 
L 191.463 602.165 
L 191.507 604.042 
L 191.550 602.272 
L 191.572 601.353 
L 191.594 601.396 
L 191.660 604.342 
L 191.705 603.286 
L 191.749 600.248 
L 191.794 604.022 
L 191.883 615.106 
L 191.951 614.031 
L 191.974 614.377 
L 191.996 613.697 
L 192.088 592.378 
L 192.156 605.931 
L 192.202 610.609 
L 192.225 606.082 
L 192.272 597.852 
L 192.318 608.860 
L 192.365 614.804 
L 192.412 608.770 
L 192.435 608.791 
L 192.506 614.961 
L 192.577 612.476 
L 192.648 615.139 
L 192.696 613.719 
L 192.865 611.323 
L 193.061 614.475 
L 193.110 613.579 
L 193.185 609.040 
L 193.259 610.716 
L 193.284 610.846 
L 193.310 610.435 
L 193.385 603.133 
L 193.436 608.072 
L 193.563 613.492 
L 193.614 605.093 
L 193.666 592.273 
L 193.717 596.087 
L 193.795 611.048 
L 193.874 606.463 
L 193.900 605.795 
L 193.926 606.736 
L 194.005 613.521 
L 194.032 611.626 
L 194.111 603.110 
L 194.138 605.083 
L 194.218 614.930 
L 194.299 613.190 
L 194.353 614.893 
L 194.380 613.522 
L 194.462 603.963 
L 194.517 606.493 
L 194.682 614.015 
L 194.738 614.937 
L 194.766 614.763 
L 194.878 606.214 
L 194.934 611.646 
L 194.991 614.205 
L 195.048 613.451 
L 195.105 608.732 
L 195.306 581.514 
L 195.335 582.680 
L 195.481 597.204 
L 195.540 596.302 
L 195.629 605.907 
L 195.748 613.918 
L 195.778 613.756 
L 195.898 606.887 
L 195.989 609.179 
L 196.173 614.864 
L 196.234 615.091 
L 196.327 613.294 
L 196.358 613.692 
L 196.421 614.977 
L 196.547 598.958 
L 196.642 605.200 
L 196.705 608.391 
L 196.737 606.770 
L 196.833 602.712 
L 196.865 602.913 
L 197.093 612.145 
L 197.126 610.693 
L 197.290 592.169 
L 197.357 600.298 
L 197.424 607.415 
L 197.457 605.656 
L 197.524 600.276 
L 197.558 600.939 
L 197.727 613.276 
L 197.761 612.937 
L 197.830 611.707 
L 197.864 611.732 
L 197.933 613.390 
L 197.968 613.096 
L 198.212 609.738 
L 198.247 609.956 
L 198.424 615.003 
L 198.460 614.929 
L 198.532 613.407 
L 198.858 601.575 
L 198.895 602.283 
L 198.931 601.673 
L 199.079 588.333 
L 199.116 590.145 
L 199.266 610.354 
L 199.341 607.792 
L 199.379 605.919 
L 199.417 606.136 
L 199.569 615.076 
L 199.607 614.168 
L 199.684 612.723 
L 199.722 613.187 
L 199.761 613.385 
L 199.878 608.534 
L 199.917 609.087 
L 200.074 613.452 
L 200.232 606.420 
L 200.312 608.027 
L 200.432 614.054 
L 200.472 613.772 
L 200.594 608.507 
L 200.635 608.803 
L 200.757 614.796 
L 200.798 614.510 
L 201.005 606.012 
L 201.047 608.218 
L 201.089 610.562 
L 201.131 609.609 
L 201.342 570.080 
L 201.427 576.835 
L 201.512 590.058 
L 201.555 586.573 
L 201.685 565.075 
L 201.728 565.294 
L 202.123 602.589 
L 202.212 605.951 
L 202.257 605.361 
L 202.437 589.711 
L 202.482 594.098 
L 202.664 613.198 
L 202.710 613.119 
L 202.894 597.634 
L 202.941 602.102 
L 203.127 614.669 
L 203.174 615.100 
L 203.411 608.250 
L 203.459 609.697 
L 203.603 614.920 
L 203.845 599.219 
L 203.894 600.176 
L 204.041 607.617 
L 204.240 579.966 
L 204.290 580.472 
L 204.440 596.812 
L 204.491 594.715 
L 204.592 589.785 
L 204.694 597.510 
L 204.899 610.689 
L 205.054 608.076 
L 205.264 615.134 
L 205.316 614.736 
L 205.422 613.373 
L 205.475 613.452 
L 205.635 615.121 
L 205.689 614.981 
L 205.905 611.763 
L 206.014 610.028 
L 206.124 612.116 
L 206.234 614.145 
L 206.289 613.810 
L 206.345 613.662 
L 206.456 614.674 
L 206.568 611.259 
L 206.737 600.367 
L 206.794 602.804 
L 207.023 613.146 
L 207.138 609.696 
L 207.370 598.249 
L 207.488 602.538 
L 207.724 613.456 
L 207.784 613.353 
L 207.903 610.806 
L 208.145 600.936 
L 208.267 607.098 
L 208.389 613.292 
L 208.451 612.810 
L 208.574 608.748 
L 208.761 595.079 
L 208.823 595.905 
L 209.012 603.416 
L 209.076 603.164 
L 209.203 597.983 
L 209.395 589.735 
L 209.590 594.695 
L 209.851 605.611 
L 209.983 606.262 
L 210.116 605.726 
L 210.249 606.536 
L 210.384 609.634 
L 210.519 612.363 
L 210.724 608.656 
L 210.930 614.053 
L 211.069 608.014 
L 211.208 601.959 
L 211.349 603.418 
L 211.561 599.815 
L 211.632 599.910 
L 211.703 600.068 
L 211.919 603.021 
L 211.991 602.771 
L 212.064 602.322 
L 212.137 603.248 
L 212.430 611.003 
L 212.728 613.232 
L 212.878 613.644 
L 213.105 615.050 
L 213.258 614.306 
L 213.334 614.397 
L 213.411 614.533 
L 213.566 612.121 
L 213.721 610.302 
L 213.957 614.646 
L 214.036 613.958 
L 214.274 610.316 
L 214.435 612.967 
L 214.596 615.114 
L 214.759 613.245 
L 214.922 611.503 
L 215.005 611.750 
L 215.253 614.993 
L 215.337 614.917 
L 215.588 610.655 
L 215.673 610.797 
L 215.843 613.398 
L 215.928 612.568 
L 216.100 608.989 
L 216.360 612.512 
L 216.447 610.250 
L 216.711 592.474 
L 217.246 609.475 
L 217.427 608.950 
L 217.609 609.193 
L 217.701 609.037 
L 217.885 606.658 
L 218.071 604.540 
L 218.258 607.155 
L 218.541 612.500 
L 218.731 612.050 
L 219.020 614.310 
L 219.116 612.940 
L 219.606 594.776 
L 219.705 594.806 
L 220.004 599.520 
L 220.408 611.635 
L 220.612 614.032 
L 220.818 609.984 
L 221.552 594.676 
L 221.658 592.730 
L 221.765 594.391 
L 221.980 603.521 
L 222.088 603.230 
L 222.414 599.519 
L 222.634 597.837 
L 222.745 599.880 
L 223.079 610.424 
L 223.305 602.862 
L 223.532 598.253 
L 223.875 614.294 
L 223.991 613.972 
L 224.341 602.889 
L 224.576 606.258 
L 224.694 605.058 
L 225.173 576.394 
L 225.294 576.376 
L 225.906 609.183 
L 226.030 609.068 
L 226.154 607.939 
L 226.657 599.381 
L 226.912 605.596 
L 227.040 608.654 
L 227.168 608.403 
L 227.558 598.819 
L 227.689 598.800 
L 228.218 611.715 
L 228.621 606.687 
L 229.167 614.666 
L 229.305 614.564 
L 229.443 613.446 
L 229.722 607.899 
L 230.004 602.025 
L 230.145 601.634 
L 230.288 602.708 
L 230.430 602.788 
L 230.718 598.320 
L 230.863 599.217 
L 231.449 609.489 
L 231.597 610.385 
L 231.746 610.095 
L 231.896 608.236 
L 232.348 596.821 
L 232.501 596.506 
L 232.654 595.683 
L 232.807 593.515 
L 232.962 593.002 
L 233.117 594.790 
L 233.273 594.684 
L 233.745 583.719 
L 233.904 586.206 
L 234.224 598.088 
L 234.547 610.398 
L 234.710 610.998 
L 235.037 606.992 
L 235.202 607.918 
L 235.702 614.449 
L 236.210 610.307 
L 236.552 611.987 
L 236.898 610.875 
L 237.072 611.633 
L 237.423 615.027 
L 237.6 613.203 
L 238.32 595.591 
L 238.41 595.891 
L 238.59 599.598 
L 238.95 608.014 
L 239.04 608.307 
L 239.13 607.743 
L 239.4 602.590 
L 239.85 594.129 
L 240.12 591.435 
L 240.21 591.168 
L 240.3 591.527 
L 240.48 594.386 
L 240.75 599.451 
L 240.84 599.773 
L 241.02 598.387 
L 241.47 593.887 
L 241.56 593.680 
L 241.65 594.108 
L 241.83 597.425 
L 242.46 613.701 
L 242.55 614.284 
L 242.64 614.241 
L 242.82 612.519 
L 243.18 608.032 
L 243.27 608.089 
L 243.45 609.980 
L 243.81 614.301 
L 243.9 613.426 
L 244.08 607.500 
L 244.71 577.546 
L 244.8 577.257 
L 244.98 581.108 
L 245.61 605.948 
L 245.7 605.187 
L 245.97 596.453 
L 246.33 584.933 
L 246.42 584.363 
L 246.51 584.841 
L 246.69 588.181 
L 247.68 612.941 
L 247.95 614.534 
L 248.13 614.602 
L 248.31 614.003 
L 248.58 611.853 
L 248.94 606.872 
L 249.3 598.132 
L 249.75 586.099 
L 250.02 583.152 
L 250.11 583.076 
L 250.29 584.990 
L 250.92 596.455 
L 251.1 594.805 
L 251.82 583.860 
L 251.91 584.178 
L 252.09 586.227 
L 252.45 594.197 
L 253.08 607.978 
L 253.26 609.269 
L 253.35 609.326 
L 253.53 608.475 
L 253.98 603.719 
L 254.52 598.447 
L 254.7 597.861 
L 254.79 598.045 
L 255.06 600.028 
L 255.33 601.908 
L 255.51 602.074 
L 256.14 600.817 
L 256.41 600.811 
L 256.59 600.342 
L 256.95 598.133 
L 257.4 595.523 
L 257.58 595.357 
L 257.76 595.968 
L 258.03 598.220 
L 258.93 607.290 
L 259.2 608.208 
L 259.29 608.168 
L 259.47 607.507 
L 259.83 604.357 
L 260.37 599.869 
L 260.55 599.586 
L 260.73 600.199 
L 261 602.560 
L 261.81 610.956 
L 261.99 611.494 
L 262.08 611.504 
L 262.26 611.058 
L 262.62 608.954 
L 263.25 605.243 
L 263.43 605.144 
L 263.61 605.744 
L 263.88 607.762 
L 264.42 612.108 
L 264.6 612.369 
L 264.78 611.872 
L 265.14 609.519 
L 265.59 606.957 
L 265.77 606.770 
L 265.95 607.181 
L 266.58 609.658 
L 266.67 609.606 
L 266.85 609.036 
L 267.12 607.200 
L 267.66 601.333 
L 268.11 597.332 
L 268.29 597.074 
L 268.47 597.594 
L 269.01 600.899 
L 269.55 603.373 
L 270.09 604.781 
L 270.27 604.794 
L 270.45 604.219 
L 270.72 601.791 
L 271.08 595.679 
L 271.71 584.617 
L 271.98 582.678 
L 272.16 582.517 
L 272.34 583.398 
L 272.61 586.683 
L 273.06 596.160 
L 273.69 608.362 
L 273.96 610.635 
L 274.14 611.037 
L 274.23 610.955 
L 274.41 610.355 
L 274.86 607.560 
L 275.49 603.861 
L 275.76 603.380 
L 275.94 603.730 
L 276.21 605.205 
L 277.2 611.817 
L 277.65 613.428 
L 277.92 613.864 
L 278.1 613.876 
L 278.82 613.515 
L 279.09 613.868 
L 279.72 614.789 
L 279.9 614.811 
L 280.08 614.648 
L 280.35 613.938 
L 280.71 611.924 
L 281.61 605.766 
L 281.88 605.122 
L 282.06 605.067 
L 282.24 605.259 
L 282.6 606.178 
L 283.14 608.320 
L 284.22 612.880 
L 284.49 613.118 
L 284.67 612.919 
L 284.94 612.073 
L 285.3 610.032 
L 286.56 601.827 
L 286.92 601.165 
L 287.1 601.038 
L 287.28 601.117 
L 287.55 601.583 
L 287.91 602.788 
L 288.36 605.133 
L 289.62 612.455 
L 289.98 613.272 
L 290.25 613.489 
L 290.52 613.460 
L 290.88 613.129 
L 291.24 612.477 
L 291.69 611.099 
L 292.14 608.935 
L 292.77 604.642 
L 293.58 599.349 
L 293.85 598.582 
L 294.03 598.490 
L 294.21 598.757 
L 294.48 599.932 
L 295.02 603.653 
L 295.65 607.710 
L 296.01 608.943 
L 296.28 609.327 
L 296.55 609.336 
L 296.82 609.052 
L 297.27 608.120 
L 298.35 605.592 
L 298.62 605.499 
L 298.8 605.655 
L 299.07 606.211 
L 299.61 608.093 
L 300.42 610.904 
L 300.96 612.107 
L 301.41 612.669 
L 301.77 612.798 
L 302.04 612.688 
L 302.4 612.266 
L 302.94 611.150 
L 303.93 608.938 
L 304.29 608.576 
L 304.56 608.544 
L 304.83 608.717 
L 305.19 609.237 
L 305.73 610.503 
L 307.26 614.454 
L 307.62 614.784 
L 307.89 614.780 
L 308.16 614.568 
L 308.61 613.863 
L 309.78 611.835 
L 310.14 611.609 
L 310.5 611.609 
L 311.4 611.788 
L 311.67 611.590 
L 312.03 611.003 
L 312.66 609.343 
L 313.29 607.846 
L 313.65 607.425 
L 313.92 607.374 
L 314.19 607.552 
L 314.55 608.134 
L 315 609.345 
L 316.35 613.415 
L 316.62 613.546 
L 316.8 613.419 
L 317.07 612.919 
L 317.52 611.386 
L 318.24 607.835 
L 319.14 603.533 
L 319.59 602.285 
L 319.95 601.898 
L 320.22 601.974 
L 320.49 602.363 
L 320.85 603.353 
L 321.39 605.709 
L 322.92 613.169 
L 323.46 614.492 
L 323.91 615.008 
L 324.27 615.130 
L 324.72 615.034 
L 325.44 614.601 
L 326.61 613.916 
L 327.24 613.785 
L 327.78 613.869 
L 328.5 614.243 
L 329.67 614.884 
L 330.3 614.933 
L 330.93 614.755 
L 331.65 614.328 
L 332.64 613.457 
L 333.72 612.563 
L 334.26 612.380 
L 334.8 612.434 
L 335.43 612.744 
L 336.42 613.537 
L 337.77 614.595 
L 338.58 614.934 
L 339.3 615.000 
L 340.02 614.824 
L 340.74 614.398 
L 341.55 613.640 
L 342.36 612.556 
L 343.35 610.770 
L 344.52 608.696 
L 345.06 608.126 
L 345.51 607.963 
L 345.87 608.058 
L 346.32 608.471 
L 346.86 609.329 
L 348.21 611.693 
L 348.66 611.998 
L 348.93 611.965 
L 349.2 611.748 
L 349.56 611.152 
L 350.01 609.920 
L 350.64 607.417 
L 352.89 597.505 
L 353.34 596.557 
L 353.7 596.206 
L 354.15 596.115 
L 354.42 596.292 
L 354.78 596.812 
L 355.23 597.875 
L 355.86 599.980 
L 356.94 604.541 
L 358.29 610.070 
L 359.01 612.205 
L 359.55 613.186 
L 359.91 613.475 
L 360.18 613.477 
L 360.45 613.281 
L 360.81 612.701 
L 361.26 611.448 
L 361.8 609.194 
L 362.52 605.106 
L 365.04 589.669 
L 365.67 587.600 
L 366.12 586.783 
L 366.48 586.528 
L 366.75 586.564 
L 367.11 587.024 
L 367.56 588.055 
L 368.1 589.909 
L 368.82 593.321 
L 369.81 599.326 
L 371.34 608.742 
L 371.97 611.421 
L 372.51 612.807 
L 372.87 613.236 
L 373.14 613.303 
L 373.41 613.159 
L 373.77 612.658 
L 374.22 611.575 
L 374.76 609.689 
L 375.48 606.386 
L 377.64 595.224 
L 378.36 592.642 
L 379.08 591.111 
L 379.44 590.760 
L 379.8 590.698 
L 380.16 590.963 
L 380.52 591.490 
L 381.24 593.280 
L 381.96 595.929 
L 383.04 600.972 
L 384.48 607.669 
L 385.2 609.992 
L 385.56 610.721 
L 385.92 611.120 
L 386.28 611.172 
L 386.64 610.874 
L 387 610.239 
L 387.72 608.062 
L 388.44 604.921 
L 389.88 597.041 
L 391.68 587.153 
L 392.4 584.122 
L 393.12 582.094 
L 393.48 581.534 
L 393.84 581.301 
L 394.2 581.410 
L 394.56 581.886 
L 394.92 582.665 
L 395.64 585.007 
L 396.72 589.886 
L 398.88 600.513 
L 399.96 604.629 
L 400.68 606.666 
L 401.4 608.117 
L 402.12 609.004 
L 402.84 609.363 
L 403.56 609.246 
L 404.28 608.725 
L 405 607.899 
L 406.8 605.251 
L 407.88 603.812 
L 408.6 603.093 
L 409.32 602.626 
L 410.4 602.308 
L 411.12 602.377 
L 411.84 602.660 
L 412.92 603.363 
L 418.68 607.735 
L 420.12 608.511 
L 421.2 608.795 
L 421.92 608.766 
L 422.64 608.523 
L 423.36 608.054 
L 424.08 607.367 
L 425.16 606.007 
L 428.04 602.028 
L 429.12 601.056 
L 429.84 600.680 
L 430.56 600.530 
L 431.28 600.595 
L 432 600.859 
L 433.08 601.577 
L 434.16 602.617 
L 435.6 604.391 
L 439.92 610.219 
L 441 611.124 
L 441.72 611.489 
L 442.44 611.649 
L 443.16 611.605 
L 443.88 611.369 
L 444.96 610.707 
L 446.4 609.412 
L 449.64 606.251 
L 450.72 605.558 
L 451.8 605.169 
L 452.16 605.107 
L 453.24 605.367 
L 456.84 606.562 
L 457.92 606.571 
L 459 606.371 
L 462.24 605.554 
L 464.4 605.596 
L 465.48 606.002 
L 466.56 606.721 
L 468 608.053 
L 472.32 612.474 
L 473.4 613.177 
L 474.48 613.550 
L 475.2 613.578 
L 475.92 613.408 
L 476.64 613.022 
L 477.36 612.408 
L 478.08 611.559 
L 479.16 609.839 
L 480.24 607.603 
L 481.68 603.912 
L 483.48 598.519 
L 486 590.965 
L 487.08 588.327 
L 488.16 586.337 
L 488.88 585.434 
L 489.6 584.891 
L 490.32 584.706 
L 491.04 584.863 
L 491.76 585.331 
L 492.48 585.970 
L 493.56 587.363 
L 494.64 589.154 
L 496.44 592.677 
L 502.2 604.473 
L 504 607.616 
L 505.8 610.301 
L 507.24 612.040 
L 508.32 613.064 
L 509.4 613.823 
L 510.48 614.306 
L 511.56 614.519 
L 512.64 614.486 
L 513.72 614.249 
L 515.16 613.709 
L 522.72 610.432 
L 528.48 608.381 
L 532.44 606.620 
L 535.68 605.263 
L 537.48 604.721 
L 538.92 604.465 
L 540.36 604.416 
L 541.8 604.588 
L 543.24 604.990 
L 544.68 605.614 
L 546.48 606.657 
L 549 608.430 
L 553.68 611.771 
L 555.84 613.027 
L 557.64 613.849 
L 559.44 614.429 
L 561.24 614.739 
L 562.68 614.782 
L 564.48 614.580 
L 566.28 614.122 
L 568.44 613.312 
L 574.92 610.630 
L 576.72 610.234 
L 578.16 610.137 
L 579.6 610.260 
L 581.4 610.672 
L 583.2 611.324 
L 586.08 612.663 
L 589.32 614.141 
L 591.12 614.741 
L 592.92 615.082 
L 594.36 615.135 
L 595.8 614.982 
L 597.24 614.626 
L 599.04 613.920 
L 600.84 612.973 
L 603.36 611.375 
L 609.48 607.332 
L 611.64 606.188 
L 613.8 605.304 
L 615.6 604.789 
L 617.4 604.485 
L 619.2 604.391 
L 621.36 604.530 
L 623.16 604.816 
L 625.32 605.394 
L 627.48 606.201 
L 630 607.379 
L 633.24 609.154 
L 639.36 612.566 
L 641.52 613.513 
L 643.32 614.101 
L 645.12 614.465 
L 646.92 614.585 
L 648.72 614.466 
L 650.52 614.134 
L 653.04 613.406 
L 661.32 610.740 
L 663.84 610.269 
L 666.36 610.024 
L 668.88 609.994 
L 671.4 610.169 
L 674.64 610.629 
L 678.6 611.435 
L 691.92 614.368 
L 695.52 614.832 
L 698.76 615.018 
L 701.64 614.959 
L 704.52 614.666 
L 707.4 614.129 
L 710.28 613.369 
L 713.88 612.183 
L 722.88 609.096 
L 726.12 608.282 
L 729 607.768 
L 732.24 607.430 
L 735.48 607.327 
L 739.08 607.454 
L 745.2 607.978 
L 749.52 608.638 
L 754.92 609.709 
L 770.04 612.898 
L 773.64 613.327 
L 776.52 613.458 
L 779.4 613.353 
L 781.92 613.036 
L 784.44 612.490 
L 786.96 611.710 
L 789.48 610.706 
L 792.36 609.319 
L 795.96 607.324 
L 805.68 601.772 
L 808.92 600.246 
L 811.8 599.117 
L 814.68 598.213 
L 817.56 597.528 
L 820.8 596.995 
L 824.04 596.680 
L 828 596.534 
L 832.32 596.785 
L 837.72 597.325 
L 844.56 598.246 
L 851.76 599.445 
L 858.6 600.808 
L 865.8 602.479 
L 874.8 604.816 
L 889.92 608.762 
L 897.12 610.391 
L 903.6 611.626 
L 909.72 612.569 
L 915.84 613.293 
L 922.32 613.839 
L 929.52 614.216 
L 937.44 614.397 
L 945.72 614.361 
L 953.64 614.112 
L 961.2 613.659 
L 968.4 613.002 
L 975.24 612.153 
L 982.08 611.075 
L 991.44 609.329 
L 1000.8 607.364 
L 1023.12 602.354 
L 1044 596.747 
L 1053.36 594.493 
L 1089.72 586.114 
L 1129.32 576.543 
L 1133.28 575.860 
L 1137.96 575.351 
L 1142.28 575.098 
L 1145.52 575.112 
L 1149.48 575.355 
L 1153.44 575.823 
L 1157.4 576.515 
L 1161.72 577.514 
L 1161.72 577.514 
" clip-path="url(#pa5b05408b6)" style="fill: none; stroke: #1f77b4; stroke-width: 1.5; stroke-linecap: square"/>
   </g>
   <g id="patch_8">
    <path d="M 162.360 616.680 L 162.360 424.440" style="fill: none; stroke: #000000; stroke-width: 0.72; stroke-linejoin: miter; stroke-linecap: square"/>
   </g>
   <g id="patch_9">
    <path d="M 1166.760 616.680 L 1166.760 424.440" style="fill: none; stroke: #000000; stroke-width: 0.72; stroke-linejoin: miter; stroke-linecap: square"/>
   </g>
   <g id="patch_10">
    <path d="M 162.360 616.680 L 1166.760 616.680" style="fill: none; stroke: #000000; stroke-width: 0.72; stroke-linejoin: miter; stroke-linecap: square"/>
   </g>
   <g id="patch_11">
    <path d="M 162.360 424.440 L 1166.760 424.440" style="fill: none; stroke: #000000; stroke-width: 0.72; stroke-linejoin: miter; stroke-linecap: square"/>
   </g>
   <g id="text_22">
    <text style="font-size: 24px; font-family: 'DejaVu Sans', 'Liberation Sans', sans-serif; text-anchor: start" x="664.200" y="443.291">Period: 5.973 h</text>
   </g>
  </g>
  <g id="axes_3">
   <g id="patch_12">
    <path d="M 162 884.769 
L 1166.4 884.769 
L 1166.4 692.861 
L 162 692.861 
z
" style="fill: #ffffff"/>
   </g>
   <g id="matplotlib.axis_5">
    <g id="xtick_13">
     <g id="line2d_20">
      <g>
       <use href="#mb72ec5ad28" x="167.400" y="885.240" style="stroke: #000000; stroke-width: 0.72"/>
      </g>
     </g>
     <g id="text_23">
      <text style="font-size: 24px; font-family: 'DejaVu Sans', 'Liberation Sans', sans-serif; text-anchor: middle" x="166.972" y="910.393">0</text>
     </g>
    </g>
    <g id="xtick_14">
     <g id="line2d_21">
      <g>
       <use href="#mb72ec5ad28" x="333.720" y="885.240" style="stroke: #000000; stroke-width: 0.72"/>
      </g>
     </g>
     <g id="text_24">
      <text style="font-size: 24px; font-family: 'DejaVu Sans', 'Liberation Sans', sans-serif; text-anchor: middle" x="333.463" y="910.393">1</text>
     </g>
    </g>
    <g id="xtick_15">
     <g id="line2d_22">
      <g>
       <use href="#mb72ec5ad28" x="500.040" y="885.240" style="stroke: #000000; stroke-width: 0.72"/>
      </g>
     </g>
     <g id="text_25">
      <text style="font-size: 24px; font-family: 'DejaVu Sans', 'Liberation Sans', sans-serif; text-anchor: middle" x="499.955" y="910.393">2</text>
     </g>
    </g>
    <g id="xtick_16">
     <g id="line2d_23">
      <g>
       <use href="#mb72ec5ad28" x="667.080" y="885.240" style="stroke: #000000; stroke-width: 0.72"/>
      </g>
     </g>
     <g id="text_26">
      <text style="font-size: 24px; font-family: 'DejaVu Sans', 'Liberation Sans', sans-serif; text-anchor: middle" x="666.446" y="910.393">3</text>
     </g>
    </g>
    <g id="xtick_17">
     <g id="line2d_24">
      <g>
       <use href="#mb72ec5ad28" x="833.400" y="885.240" style="stroke: #000000; stroke-width: 0.72"/>
      </g>
     </g>
     <g id="text_27">
      <text style="font-size: 24px; font-family: 'DejaVu Sans', 'Liberation Sans', sans-serif; text-anchor: middle" x="832.937" y="910.393">4</text>
     </g>
    </g>
    <g id="xtick_18">
     <g id="line2d_25">
      <g>
       <use href="#mb72ec5ad28" x="999.720" y="885.240" style="stroke: #000000; stroke-width: 0.72"/>
      </g>
     </g>
     <g id="text_28">
      <text style="font-size: 24px; font-family: 'DejaVu Sans', 'Liberation Sans', sans-serif; text-anchor: middle" x="999.429" y="910.393">5</text>
     </g>
    </g>
    <g id="xtick_19">
     <g id="line2d_26">
      <g>
       <use href="#mb72ec5ad28" x="1166.040" y="885.240" style="stroke: #000000; stroke-width: 0.72"/>
      </g>
     </g>
     <g id="text_29">
      <text style="font-size: 24px; font-family: 'DejaVu Sans', 'Liberation Sans', sans-serif; text-anchor: middle" x="1165.920" y="910.393">6</text>
     </g>
    </g>
    <g id="text_30">
     <text style="font-size: 24px; font-family: 'DejaVu Sans', 'Liberation Sans', sans-serif; text-anchor: middle" x="664.200" y="938.341">Phase (hours)</text>
    </g>
   </g>
   <g id="matplotlib.axis_6">
    <g id="ytick_5">
     <g id="line2d_27">
      <g>
       <use href="#m1af1ae3523" x="162.360" y="813.240" style="stroke: #000000; stroke-width: 0.72"/>
      </g>
     </g>
     <g id="text_31">
      <text style="font-size: 24px; font-family: 'DejaVu Sans', 'Liberation Sans', sans-serif; text-anchor: end" x="154.612" y="822.286">12.5</text>
     </g>
    </g>
    <g id="ytick_6">
     <g id="line2d_28">
      <g>
       <use href="#m1af1ae3523" x="162.360" y="729.000" style="stroke: #000000; stroke-width: 0.72"/>
      </g>
     </g>
     <g id="text_32">
      <text style="font-size: 24px; font-family: 'DejaVu Sans', 'Liberation Sans', sans-serif; text-anchor: end" x="154.612" y="737.902">13.0</text>
     </g>
    </g>
    <g id="text_33">
     <text style="font-size: 24px; font-family: 'DejaVu Sans', 'Liberation Sans', sans-serif; text-anchor: middle" x="90.959" y="789.895" transform="rotate(-90 90.959 789.895)">H (mag)</text>
    </g>
   </g>
   <g id="LineCollection_3">
    <path d="M 168.48 742.5 
L 168.48 775.548 
" clip-path="url(#p22a861c171)" style="fill: none; stroke: #117733; stroke-width: 1.44"/>
    <path d="M 203.76 697.356 
L 203.76 770.724 
" clip-path="url(#p22a861c171)" style="fill: none; stroke: #117733; stroke-width: 1.44"/>
    <path d="M 236.16 735.3 
L 236.16 800.028 
" clip-path="url(#p22a861c171)" style="fill: none; stroke: #117733; stroke-width: 1.44"/>
    <path d="M 257.76 766.836 
L 257.76 782.892 
" clip-path="url(#p22a861c171)" style="fill: none; stroke: #117733; stroke-width: 1.44"/>
    <path d="M 264.96 758.232 
L 264.96 796.248 
" clip-path="url(#p22a861c171)" style="fill: none; stroke: #117733; stroke-width: 1.44"/>
    <path d="M 276.48 739.152 
L 276.48 797.616 
" clip-path="url(#p22a861c171)" style="fill: none; stroke: #117733; stroke-width: 1.44"/>
    <path d="M 291.6 773.928 
L 291.6 796.392 
" clip-path="url(#p22a861c171)" style="fill: none; stroke: #117733; stroke-width: 1.44"/>
    <path d="M 293.76 761.112 
L 293.76 790.488 
" clip-path="url(#p22a861c171)" style="fill: none; stroke: #117733; stroke-width: 1.44"/>
    <path d="M 303.12 756.432 
L 303.12 805.968 
" clip-path="url(#p22a861c171)" style="fill: none; stroke: #117733; stroke-width: 1.44"/>
    <path d="M 313.92 775.116 
L 313.92 790.884 
" clip-path="url(#p22a861c171)" style="fill: none; stroke: #117733; stroke-width: 1.44"/>
    <path d="M 390.96 759.132 
L 390.96 789.156 
" clip-path="url(#p22a861c171)" style="fill: none; stroke: #117733; stroke-width: 1.44"/>
    <path d="M 403.92 761.832 
L 403.92 794.088 
" clip-path="url(#p22a861c171)" style="fill: none; stroke: #117733; stroke-width: 1.44"/>
    <path d="M 408.24 744.192 
L 408.24 786.816 
" clip-path="url(#p22a861c171)" style="fill: none; stroke: #117733; stroke-width: 1.44"/>
    <path d="M 439.2 774.756 
L 439.2 802.332 
" clip-path="url(#p22a861c171)" style="fill: none; stroke: #117733; stroke-width: 1.44"/>
    <path d="M 488.88 755.064 
L 488.88 807.624 
" clip-path="url(#p22a861c171)" style="fill: none; stroke: #117733; stroke-width: 1.44"/>
    <path d="M 524.16 759.168 
L 524.16 777.312 
" clip-path="url(#p22a861c171)" style="fill: none; stroke: #117733; stroke-width: 1.44"/>
    <path d="M 529.2 753.192 
L 529.2 800.136 
" clip-path="url(#p22a861c171)" style="fill: none; stroke: #117733; stroke-width: 1.44"/>
    <path d="M 544.32 720.216 
L 544.32 769.032 
" clip-path="url(#p22a861c171)" style="fill: none; stroke: #117733; stroke-width: 1.44"/>
    <path d="M 550.8 705.276 
L 550.8 774.324 
" clip-path="url(#p22a861c171)" style="fill: none; stroke: #117733; stroke-width: 1.44"/>
    <path d="M 586.08 740.052 
L 586.08 782.316 
" clip-path="url(#p22a861c171)" style="fill: none; stroke: #117733; stroke-width: 1.44"/>
    <path d="M 594.72 744.12 
L 594.72 778.248 
" clip-path="url(#p22a861c171)" style="fill: none; stroke: #117733; stroke-width: 1.44"/>
    <path d="M 621.36 697.356 
L 621.36 746.964 
" clip-path="url(#p22a861c171)" style="fill: none; stroke: #117733; stroke-width: 1.44"/>
    <path d="M 643.68 748.548 
L 643.68 795.852 
" clip-path="url(#p22a861c171)" style="fill: none; stroke: #117733; stroke-width: 1.44"/>
    <path d="M 652.32 726.912 
L 652.32 789.408 
" clip-path="url(#p22a861c171)" style="fill: none; stroke: #117733; stroke-width: 1.44"/>
    <path d="M 689.04 731.952 
L 689.04 787.536 
" clip-path="url(#p22a861c171)" style="fill: none; stroke: #117733; stroke-width: 1.44"/>
    <path d="M 699.12 723.6 
L 699.12 765.648 
" clip-path="url(#p22a861c171)" style="fill: none; stroke: #117733; stroke-width: 1.44"/>
    <path d="M 702.72 740.592 
L 702.72 777.456 
" clip-path="url(#p22a861c171)" style="fill: none; stroke: #117733; stroke-width: 1.44"/>
    <path d="M 703.44 754.092 
L 703.44 778.788 
" clip-path="url(#p22a861c171)" style="fill: none; stroke: #117733; stroke-width: 1.44"/>
    <path d="M 707.76 723.276 
L 707.76 775.764 
" clip-path="url(#p22a861c171)" style="fill: none; stroke: #117733; stroke-width: 1.44"/>
    <path d="M 753.12 735.3 
L 753.12 784.188 
" clip-path="url(#p22a861c171)" style="fill: none; stroke: #117733; stroke-width: 1.44"/>
    <path d="M 756.72 762.336 
L 756.72 782.784 
" clip-path="url(#p22a861c171)" style="fill: none; stroke: #117733; stroke-width: 1.44"/>
    <path d="M 774.72 754.272 
L 774.72 780.768 
" clip-path="url(#p22a861c171)" style="fill: none; stroke: #117733; stroke-width: 1.44"/>
    <path d="M 781.92 751.896 
L 781.92 809.352 
" clip-path="url(#p22a861c171)" style="fill: none; stroke: #117733; stroke-width: 1.44"/>
    <path d="M 784.8 765 
L 784.8 795.24 
" clip-path="url(#p22a861c171)" style="fill: none; stroke: #117733; stroke-width: 1.44"/>
    <path d="M 820.8 748.8 
L 820.8 809.568 
" clip-path="url(#p22a861c171)" style="fill: none; stroke: #117733; stroke-width: 1.44"/>
    <path d="M 838.08 771.912 
L 838.08 800.568 
" clip-path="url(#p22a861c171)" style="fill: none; stroke: #117733; stroke-width: 1.44"/>
    <path d="M 842.4 767.628 
L 842.4 793.476 
" clip-path="url(#p22a861c171)" style="fill: none; stroke: #117733; stroke-width: 1.44"/>
    <path d="M 851.76 816.624 
L 851.76 884.16 
" clip-path="url(#p22a861c171)" style="fill: none; stroke: #117733; stroke-width: 1.44"/>
    <path d="M 878.4 757.872 
L 878.4 792.144 
" clip-path="url(#p22a861c171)" style="fill: none; stroke: #117733; stroke-width: 1.44"/>
    <path d="M 887.04 756.396 
L 887.04 781.524 
" clip-path="url(#p22a861c171)" style="fill: none; stroke: #117733; stroke-width: 1.44"/>
    <path d="M 965.52 774.756 
L 965.52 797.004 
" clip-path="url(#p22a861c171)" style="fill: none; stroke: #117733; stroke-width: 1.44"/>
    <path d="M 968.4 770.22 
L 968.4 785.7 
" clip-path="url(#p22a861c171)" style="fill: none; stroke: #117733; stroke-width: 1.44"/>
    <path d="M 998.64 706.176 
L 998.64 771.984 
" clip-path="url(#p22a861c171)" style="fill: none; stroke: #117733; stroke-width: 1.44"/>
    <path d="M 1000.08 752.472 
L 1000.08 777.528 
" clip-path="url(#p22a861c171)" style="fill: none; stroke: #117733; stroke-width: 1.44"/>
    <path d="M 1044 714.06 
L 1044 762.66 
" clip-path="url(#p22a861c171)" style="fill: none; stroke: #117733; stroke-width: 1.44"/>
    <path d="M 1044.72 737.28 
L 1044.72 781.2 
" clip-path="url(#p22a861c171)" style="fill: none; stroke: #117733; stroke-width: 1.44"/>
    <path d="M 1051.2 751.68 
L 1051.2 777.888 
" clip-path="url(#p22a861c171)" style="fill: none; stroke: #117733; stroke-width: 1.44"/>
    <path d="M 1053.36 754.992 
L 1053.36 774.576 
" clip-path="url(#p22a861c171)" style="fill: none; stroke: #117733; stroke-width: 1.44"/>
    <path d="M 1056.96 744.732 
L 1056.96 797.796 
" clip-path="url(#p22a861c171)" style="fill: none; stroke: #117733; stroke-width: 1.44"/>
    <path d="M 1059.84 744.66 
L 1059.84 789.228 
" clip-path="url(#p22a861c171)" style="fill: none; stroke: #117733; stroke-width: 1.44"/>
    <path d="M 1063.44 729.18 
L 1063.44 783.108 
" clip-path="url(#p22a861c171)" style="fill: none; stroke: #117733; stroke-width: 1.44"/>
    <path d="M 1098.72 714.636 
L 1098.72 767.412 
" clip-path="url(#p22a861c171)" style="fill: none; stroke: #117733; stroke-width: 1.44"/>
    <path d="M 1123.2 730.08 
L 1123.2 762.048 
" clip-path="url(#p22a861c171)" style="fill: none; stroke: #117733; stroke-width: 1.44"/>
    <path d="M 1131.84 693.972 
L 1131.84 758.268 
" clip-path="url(#p22a861c171)" style="fill: none; stroke: #117733; stroke-width: 1.44"/>
   </g>
   <g id="LineCollection_4">
    <path d="M 171.36 749.772 
L 171.36 769.716 
" clip-path="url(#p22a861c171)" style="fill: none; stroke: #882255; stroke-width: 1.44"/>
    <path d="M 173.52 767.448 
L 173.52 782.28 
" clip-path="url(#p22a861c171)" style="fill: none; stroke: #882255; stroke-width: 1.44"/>
    <path d="M 177.12 744.12 
L 177.12 767.88 
" clip-path="url(#p22a861c171)" style="fill: none; stroke: #882255; stroke-width: 1.44"/>
    <path d="M 182.88 729.756 
L 182.88 777.924 
" clip-path="url(#p22a861c171)" style="fill: none; stroke: #882255; stroke-width: 1.44"/>
    <path d="M 195.84 724.14 
L 195.84 760.788 
" clip-path="url(#p22a861c171)" style="fill: none; stroke: #882255; stroke-width: 1.44"/>
    <path d="M 222.48 752.796 
L 222.48 775.764 
" clip-path="url(#p22a861c171)" style="fill: none; stroke: #882255; stroke-width: 1.44"/>
    <path d="M 234 745.632 
L 234 779.328 
" clip-path="url(#p22a861c171)" style="fill: none; stroke: #882255; stroke-width: 1.44"/>
    <path d="M 232.56 762.372 
L 232.56 780.588 
" clip-path="url(#p22a861c171)" style="fill: none; stroke: #882255; stroke-width: 1.44"/>
    <path d="M 257.04 736.74 
L 257.04 789.228 
" clip-path="url(#p22a861c171)" style="fill: none; stroke: #882255; stroke-width: 1.44"/>
    <path d="M 280.08 759.168 
L 280.08 791.712 
" clip-path="url(#p22a861c171)" style="fill: none; stroke: #882255; stroke-width: 1.44"/>
    <path d="M 313.92 735.12 
L 313.92 784.8 
" clip-path="url(#p22a861c171)" style="fill: none; stroke: #882255; stroke-width: 1.44"/>
    <path d="M 333.36 760.392 
L 333.36 795.528 
" clip-path="url(#p22a861c171)" style="fill: none; stroke: #882255; stroke-width: 1.44"/>
    <path d="M 351.36 762.768 
L 351.36 797.04 
" clip-path="url(#p22a861c171)" style="fill: none; stroke: #882255; stroke-width: 1.44"/>
    <path d="M 362.88 767.952 
L 362.88 803.376 
" clip-path="url(#p22a861c171)" style="fill: none; stroke: #882255; stroke-width: 1.44"/>
    <path d="M 374.4 762.156 
L 374.4 800.532 
" clip-path="url(#p22a861c171)" style="fill: none; stroke: #882255; stroke-width: 1.44"/>
    <path d="M 452.88 767.016 
L 452.88 787.464 
" clip-path="url(#p22a861c171)" style="fill: none; stroke: #882255; stroke-width: 1.44"/>
    <path d="M 451.44 760.572 
L 451.44 807.876 
" clip-path="url(#p22a861c171)" style="fill: none; stroke: #882255; stroke-width: 1.44"/>
    <path d="M 492.48 737.892 
L 492.48 767.628 
" clip-path="url(#p22a861c171)" style="fill: none; stroke: #882255; stroke-width: 1.44"/>
    <path d="M 508.32 765.684 
L 508.32 785.484 
" clip-path="url(#p22a861c171)" style="fill: none; stroke: #882255; stroke-width: 1.44"/>
    <path d="M 514.08 745.056 
L 514.08 774.432 
" clip-path="url(#p22a861c171)" style="fill: none; stroke: #882255; stroke-width: 1.44"/>
    <path d="M 517.68 742.14 
L 517.68 772.02 
" clip-path="url(#p22a861c171)" style="fill: none; stroke: #882255; stroke-width: 1.44"/>
    <path d="M 515.52 759.852 
L 515.52 781.668 
" clip-path="url(#p22a861c171)" style="fill: none; stroke: #882255; stroke-width: 1.44"/>
    <path d="M 522.72 755.712 
L 522.72 782.496 
" clip-path="url(#p22a861c171)" style="fill: none; stroke: #882255; stroke-width: 1.44"/>
    <path d="M 529.92 738.324 
L 529.92 763.884 
" clip-path="url(#p22a861c171)" style="fill: none; stroke: #882255; stroke-width: 1.44"/>
    <path d="M 536.4 756.468 
L 536.4 787.5 
" clip-path="url(#p22a861c171)" style="fill: none; stroke: #882255; stroke-width: 1.44"/>
    <path d="M 542.16 720.36 
L 542.16 760.68 
" clip-path="url(#p22a861c171)" style="fill: none; stroke: #882255; stroke-width: 1.44"/>
    <path d="M 570.96 730.476 
L 570.96 754.884 
" clip-path="url(#p22a861c171)" style="fill: none; stroke: #882255; stroke-width: 1.44"/>
    <path d="M 570.96 743.184 
L 570.96 766.656 
" clip-path="url(#p22a861c171)" style="fill: none; stroke: #882255; stroke-width: 1.44"/>
    <path d="M 578.88 729.54 
L 578.88 755.82 
" clip-path="url(#p22a861c171)" style="fill: none; stroke: #882255; stroke-width: 1.44"/>
    <path d="M 580.32 731.52 
L 580.32 764.928 
" clip-path="url(#p22a861c171)" style="fill: none; stroke: #882255; stroke-width: 1.44"/>
    <path d="M 582.48 742.284 
L 582.48 767.124 
" clip-path="url(#p22a861c171)" style="fill: none; stroke: #882255; stroke-width: 1.44"/>
    <path d="M 606.96 761.076 
L 606.96 777.564 
" clip-path="url(#p22a861c171)" style="fill: none; stroke: #882255; stroke-width: 1.44"/>
    <path d="M 658.8 755.784 
L 658.8 773.496 
" clip-path="url(#p22a861c171)" style="fill: none; stroke: #882255; stroke-width: 1.44"/>
    <path d="M 677.52 756.468 
L 677.52 780.3 
" clip-path="url(#p22a861c171)" style="fill: none; stroke: #882255; stroke-width: 1.44"/>
    <path d="M 691.2 731.232 
L 691.2 775.296 
" clip-path="url(#p22a861c171)" style="fill: none; stroke: #882255; stroke-width: 1.44"/>
    <path d="M 725.04 767.556 
L 725.04 788.364 
" clip-path="url(#p22a861c171)" style="fill: none; stroke: #882255; stroke-width: 1.44"/>
    <path d="M 743.04 745.416 
L 743.04 782.712 
" clip-path="url(#p22a861c171)" style="fill: none; stroke: #882255; stroke-width: 1.44"/>
    <path d="M 749.52 736.128 
L 749.52 767.52 
" clip-path="url(#p22a861c171)" style="fill: none; stroke: #882255; stroke-width: 1.44"/>
    <path d="M 766.08 743.976 
L 766.08 791.352 
" clip-path="url(#p22a861c171)" style="fill: none; stroke: #882255; stroke-width: 1.44"/>
    <path d="M 792 770.436 
L 792 786.78 
" clip-path="url(#p22a861c171)" style="fill: none; stroke: #882255; stroke-width: 1.44"/>
    <path d="M 866.88 765.108 
L 866.88 801.324 
" clip-path="url(#p22a861c171)" style="fill: none; stroke: #882255; stroke-width: 1.44"/>
    <path d="M 876.96 746.928 
L 876.96 779.76 
" clip-path="url(#p22a861c171)" style="fill: none; stroke: #882255; stroke-width: 1.44"/>
    <path d="M 879.84 767.88 
L 879.84 789.912 
" clip-path="url(#p22a861c171)" style="fill: none; stroke: #882255; stroke-width: 1.44"/>
    <path d="M 889.92 770.76 
L 889.92 800.424 
" clip-path="url(#p22a861c171)" style="fill: none; stroke: #882255; stroke-width: 1.44"/>
    <path d="M 911.52 771.48 
L 911.52 801.288 
" clip-path="url(#p22a861c171)" style="fill: none; stroke: #882255; stroke-width: 1.44"/>
    <path d="M 944.64 769.428 
L 944.64 790.524 
" clip-path="url(#p22a861c171)" style="fill: none; stroke: #882255; stroke-width: 1.44"/>
    <path d="M 950.4 762.084 
L 950.4 783.036 
" clip-path="url(#p22a861c171)" style="fill: none; stroke: #882255; stroke-width: 1.44"/>
    <path d="M 982.8 755.928 
L 982.8 776.952 
" clip-path="url(#p22a861c171)" style="fill: none; stroke: #882255; stroke-width: 1.44"/>
    <path d="M 988.56 752.436 
L 988.56 773.964 
" clip-path="url(#p22a861c171)" style="fill: none; stroke: #882255; stroke-width: 1.44"/>
    <path d="M 991.44 759.888 
L 991.44 778.032 
" clip-path="url(#p22a861c171)" style="fill: none; stroke: #882255; stroke-width: 1.44"/>
    <path d="M 1002.24 758.412 
L 1002.24 776.916 
" clip-path="url(#p22a861c171)" style="fill: none; stroke: #882255; stroke-width: 1.44"/>
    <path d="M 1006.56 740.16 
L 1006.56 779.328 
" clip-path="url(#p22a861c171)" style="fill: none; stroke: #882255; stroke-width: 1.44"/>
    <path d="M 1013.04 730.332 
L 1013.04 776.196 
" clip-path="url(#p22a861c171)" style="fill: none; stroke: #882255; stroke-width: 1.44"/>
    <path d="M 1018.08 743.328 
L 1018.08 786.24 
" clip-path="url(#p22a861c171)" style="fill: none; stroke: #882255; stroke-width: 1.44"/>
    <path d="M 1032.48 751.356 
L 1032.48 765.684 
" clip-path="url(#p22a861c171)" style="fill: none; stroke: #882255; stroke-width: 1.44"/>
    <path d="M 1082.16 756.18 
L 1082.16 773.388 
" clip-path="url(#p22a861c171)" style="fill: none; stroke: #882255; stroke-width: 1.44"/>
    <path d="M 1103.76 749.952 
L 1103.76 810.288 
" clip-path="url(#p22a861c171)" style="fill: none; stroke: #882255; stroke-width: 1.44"/>
    <path d="M 1134.72 736.236 
L 1134.72 757.044 
" clip-path="url(#p22a861c171)" style="fill: none; stroke: #882255; stroke-width: 1.44"/>
    <path d="M 1132.56 750.492 
L 1132.56 767.268 
" clip-path="url(#p22a861c171)" style="fill: none; stroke: #882255; stroke-width: 1.44"/>
    <path d="M 1146.24 749.736 
L 1146.24 787.752 
" clip-path="url(#p22a861c171)" style="fill: none; stroke: #882255; stroke-width: 1.44"/>
    <path d="M 1145.52 761.58 
L 1145.52 783.828 
" clip-path="url(#p22a861c171)" style="fill: none; stroke: #882255; stroke-width: 1.44"/>
   </g>
   <g id="line2d_29">
    <path d="M 166.972 755.389 
L 176.950 756.541 
L 190.253 758.342 
L 203.557 760.400 
L 220.187 763.243 
L 243.468 767.504 
L 270.076 772.344 
L 286.705 775.122 
L 300.009 777.106 
L 313.313 778.818 
L 323.291 779.893 
L 333.268 780.771 
L 343.246 781.436 
L 353.224 781.880 
L 363.202 782.094 
L 373.179 782.075 
L 383.157 781.824 
L 393.135 781.344 
L 403.113 780.643 
L 413.091 779.733 
L 423.068 778.627 
L 436.372 776.880 
L 449.676 774.866 
L 466.305 772.061 
L 489.587 767.822 
L 519.520 762.374 
L 536.150 759.610 
L 549.454 757.641 
L 562.757 755.948 
L 572.735 754.889 
L 582.713 754.028 
L 592.691 753.381 
L 602.669 752.956 
L 612.646 752.762 
L 622.624 752.800 
L 632.602 753.071 
L 642.580 753.569 
L 652.558 754.288 
L 662.535 755.215 
L 672.513 756.336 
L 685.817 758.102 
L 699.121 760.130 
L 715.750 762.948 
L 739.032 767.195 
L 765.639 772.052 
L 782.269 774.857 
L 795.572 776.872 
L 808.876 778.621 
L 818.854 779.727 
L 828.832 780.639 
L 838.810 781.341 
L 848.787 781.822 
L 858.765 782.074 
L 868.743 782.094 
L 878.721 781.881 
L 888.699 781.439 
L 898.676 780.775 
L 908.654 779.898 
L 918.632 778.824 
L 928.610 777.569 
L 941.913 775.649 
L 955.217 773.497 
L 971.847 770.574 
L 1025.062 760.956 
L 1038.365 758.843 
L 1051.669 756.971 
L 1061.647 755.758 
L 1071.625 754.731 
L 1081.602 753.905 
L 1091.580 753.294 
L 1101.558 752.908 
L 1111.536 752.752 
L 1121.514 752.829 
L 1131.491 753.138 
L 1141.469 753.674 
L 1151.447 754.428 
L 1161.425 755.389 
L 1161.425 755.389 
" clip-path="url(#p22a861c171)" style="fill: none; stroke: #1f77b4; stroke-width: 1.5; stroke-linecap: square"/>
   </g>
   <g id="line2d_30">
    <g clip-path="url(#p22a861c171)">
     <use href="#m9075a9afd1" x="168.84" y="759.24" style="fill: #117733"/>
     <use href="#m9075a9afd1" x="204.12" y="734.04" style="fill: #117733"/>
     <use href="#m9075a9afd1" x="236.52" y="767.88" style="fill: #117733"/>
     <use href="#m9075a9afd1" x="258.12" y="775.08" style="fill: #117733"/>
     <use href="#m9075a9afd1" x="265.32" y="777.24" style="fill: #117733"/>
     <use href="#m9075a9afd1" x="276.84" y="768.6" style="fill: #117733"/>
     <use href="#m9075a9afd1" x="291.96" y="785.16" style="fill: #117733"/>
     <use href="#m9075a9afd1" x="294.12" y="775.8" style="fill: #117733"/>
     <use href="#m9075a9afd1" x="303.48" y="781.56" style="fill: #117733"/>
     <use href="#m9075a9afd1" x="314.28" y="783" style="fill: #117733"/>
     <use href="#m9075a9afd1" x="391.32" y="774.36" style="fill: #117733"/>
     <use href="#m9075a9afd1" x="404.28" y="777.96" style="fill: #117733"/>
     <use href="#m9075a9afd1" x="408.6" y="765.72" style="fill: #117733"/>
     <use href="#m9075a9afd1" x="439.56" y="788.76" style="fill: #117733"/>
     <use href="#m9075a9afd1" x="489.24" y="781.56" style="fill: #117733"/>
     <use href="#m9075a9afd1" x="524.52" y="768.6" style="fill: #117733"/>
     <use href="#m9075a9afd1" x="529.56" y="776.52" style="fill: #117733"/>
     <use href="#m9075a9afd1" x="544.68" y="744.84" style="fill: #117733"/>
     <use href="#m9075a9afd1" x="551.16" y="739.8" style="fill: #117733"/>
     <use href="#m9075a9afd1" x="586.44" y="761.4" style="fill: #117733"/>
     <use href="#m9075a9afd1" x="595.08" y="761.4" style="fill: #117733"/>
     <use href="#m9075a9afd1" x="621.72" y="722.52" style="fill: #117733"/>
     <use href="#m9075a9afd1" x="644.04" y="772.2" style="fill: #117733"/>
     <use href="#m9075a9afd1" x="652.68" y="758.52" style="fill: #117733"/>
     <use href="#m9075a9afd1" x="689.4" y="759.96" style="fill: #117733"/>
     <use href="#m9075a9afd1" x="699.48" y="744.84" style="fill: #117733"/>
     <use href="#m9075a9afd1" x="703.08" y="759.24" style="fill: #117733"/>
     <use href="#m9075a9afd1" x="703.8" y="766.44" style="fill: #117733"/>
     <use href="#m9075a9afd1" x="708.12" y="749.88" style="fill: #117733"/>
     <use href="#m9075a9afd1" x="753.48" y="759.96" style="fill: #117733"/>
     <use href="#m9075a9afd1" x="757.08" y="772.92" style="fill: #117733"/>
     <use href="#m9075a9afd1" x="775.08" y="767.88" style="fill: #117733"/>
     <use href="#m9075a9afd1" x="782.28" y="780.84" style="fill: #117733"/>
     <use href="#m9075a9afd1" x="785.16" y="780.12" style="fill: #117733"/>
     <use href="#m9075a9afd1" x="821.16" y="779.4" style="fill: #117733"/>
     <use href="#m9075a9afd1" x="838.44" y="786.6" style="fill: #117733"/>
     <use href="#m9075a9afd1" x="842.76" y="780.84" style="fill: #117733"/>
     <use href="#m9075a9afd1" x="852.12" y="850.68" style="fill: #117733"/>
     <use href="#m9075a9afd1" x="878.76" y="775.08" style="fill: #117733"/>
     <use href="#m9075a9afd1" x="887.4" y="769.32" style="fill: #117733"/>
     <use href="#m9075a9afd1" x="965.88" y="785.88" style="fill: #117733"/>
     <use href="#m9075a9afd1" x="968.76" y="777.96" style="fill: #117733"/>
     <use href="#m9075a9afd1" x="999" y="739.08" style="fill: #117733"/>
     <use href="#m9075a9afd1" x="1000.44" y="765" style="fill: #117733"/>
     <use href="#m9075a9afd1" x="1044.36" y="738.36" style="fill: #117733"/>
     <use href="#m9075a9afd1" x="1045.08" y="759.24" style="fill: #117733"/>
     <use href="#m9075a9afd1" x="1051.56" y="765" style="fill: #117733"/>
     <use href="#m9075a9afd1" x="1053.72" y="765" style="fill: #117733"/>
     <use href="#m9075a9afd1" x="1057.32" y="771.48" style="fill: #117733"/>
     <use href="#m9075a9afd1" x="1060.2" y="767.16" style="fill: #117733"/>
     <use href="#m9075a9afd1" x="1063.8" y="756.36" style="fill: #117733"/>
     <use href="#m9075a9afd1" x="1099.08" y="741.24" style="fill: #117733"/>
     <use href="#m9075a9afd1" x="1123.56" y="746.28" style="fill: #117733"/>
     <use href="#m9075a9afd1" x="1132.2" y="726.12" style="fill: #117733"/>
    </g>
   </g>
   <g id="line2d_31">
    <g clip-path="url(#p22a861c171)">
     <use href="#m77076dbbe6" x="171.72" y="759.96" style="fill: #882255"/>
     <use href="#m77076dbbe6" x="173.88" y="775.08" style="fill: #882255"/>
     <use href="#m77076dbbe6" x="177.48" y="756.36" style="fill: #882255"/>
     <use href="#m77076dbbe6" x="183.24" y="754.2" style="fill: #882255"/>
     <use href="#m77076dbbe6" x="196.2" y="742.68" style="fill: #882255"/>
     <use href="#m77076dbbe6" x="222.84" y="764.28" style="fill: #882255"/>
     <use href="#m77076dbbe6" x="234.36" y="762.84" style="fill: #882255"/>
     <use href="#m77076dbbe6" x="232.92" y="771.48" style="fill: #882255"/>
     <use href="#m77076dbbe6" x="257.4" y="762.84" style="fill: #882255"/>
     <use href="#m77076dbbe6" x="280.44" y="775.8" style="fill: #882255"/>
     <use href="#m77076dbbe6" x="314.28" y="759.96" style="fill: #882255"/>
     <use href="#m77076dbbe6" x="333.72" y="777.96" style="fill: #882255"/>
     <use href="#m77076dbbe6" x="351.72" y="780.12" style="fill: #882255"/>
     <use href="#m77076dbbe6" x="363.24" y="785.88" style="fill: #882255"/>
     <use href="#m77076dbbe6" x="374.76" y="781.56" style="fill: #882255"/>
     <use href="#m77076dbbe6" x="453.24" y="777.24" style="fill: #882255"/>
     <use href="#m77076dbbe6" x="451.8" y="784.44" style="fill: #882255"/>
     <use href="#m77076dbbe6" x="492.84" y="752.76" style="fill: #882255"/>
     <use href="#m77076dbbe6" x="508.68" y="775.8" style="fill: #882255"/>
     <use href="#m77076dbbe6" x="514.44" y="759.96" style="fill: #882255"/>
     <use href="#m77076dbbe6" x="518.04" y="757.08" style="fill: #882255"/>
     <use href="#m77076dbbe6" x="515.88" y="770.76" style="fill: #882255"/>
     <use href="#m77076dbbe6" x="523.08" y="769.32" style="fill: #882255"/>
     <use href="#m77076dbbe6" x="530.28" y="751.32" style="fill: #882255"/>
     <use href="#m77076dbbe6" x="536.76" y="772.2" style="fill: #882255"/>
     <use href="#m77076dbbe6" x="542.52" y="740.52" style="fill: #882255"/>
     <use href="#m77076dbbe6" x="571.32" y="742.68" style="fill: #882255"/>
     <use href="#m77076dbbe6" x="571.32" y="754.92" style="fill: #882255"/>
     <use href="#m77076dbbe6" x="579.24" y="742.68" style="fill: #882255"/>
     <use href="#m77076dbbe6" x="580.68" y="748.44" style="fill: #882255"/>
     <use href="#m77076dbbe6" x="582.84" y="754.92" style="fill: #882255"/>
     <use href="#m77076dbbe6" x="607.32" y="769.32" style="fill: #882255"/>
     <use href="#m77076dbbe6" x="659.16" y="765" style="fill: #882255"/>
     <use href="#m77076dbbe6" x="677.88" y="768.6" style="fill: #882255"/>
     <use href="#m77076dbbe6" x="691.56" y="753.48" style="fill: #882255"/>
     <use href="#m77076dbbe6" x="725.4" y="777.96" style="fill: #882255"/>
     <use href="#m77076dbbe6" x="743.4" y="764.28" style="fill: #882255"/>
     <use href="#m77076dbbe6" x="749.88" y="752.04" style="fill: #882255"/>
     <use href="#m77076dbbe6" x="766.44" y="767.88" style="fill: #882255"/>
     <use href="#m77076dbbe6" x="792.36" y="778.68" style="fill: #882255"/>
     <use href="#m77076dbbe6" x="867.24" y="783" style="fill: #882255"/>
     <use href="#m77076dbbe6" x="877.32" y="763.56" style="fill: #882255"/>
     <use href="#m77076dbbe6" x="880.2" y="778.68" style="fill: #882255"/>
     <use href="#m77076dbbe6" x="890.28" y="785.88" style="fill: #882255"/>
     <use href="#m77076dbbe6" x="911.88" y="786.6" style="fill: #882255"/>
     <use href="#m77076dbbe6" x="945" y="780.12" style="fill: #882255"/>
     <use href="#m77076dbbe6" x="950.76" y="772.92" style="fill: #882255"/>
     <use href="#m77076dbbe6" x="983.16" y="766.44" style="fill: #882255"/>
     <use href="#m77076dbbe6" x="988.92" y="763.56" style="fill: #882255"/>
     <use href="#m77076dbbe6" x="991.8" y="769.32" style="fill: #882255"/>
     <use href="#m77076dbbe6" x="1002.6" y="767.88" style="fill: #882255"/>
     <use href="#m77076dbbe6" x="1006.92" y="759.96" style="fill: #882255"/>
     <use href="#m77076dbbe6" x="1013.4" y="753.48" style="fill: #882255"/>
     <use href="#m77076dbbe6" x="1018.44" y="765" style="fill: #882255"/>
     <use href="#m77076dbbe6" x="1032.84" y="758.52" style="fill: #882255"/>
     <use href="#m77076dbbe6" x="1082.52" y="765" style="fill: #882255"/>
     <use href="#m77076dbbe6" x="1104.12" y="780.12" style="fill: #882255"/>
     <use href="#m77076dbbe6" x="1135.08" y="747" style="fill: #882255"/>
     <use href="#m77076dbbe6" x="1132.92" y="759.24" style="fill: #882255"/>
     <use href="#m77076dbbe6" x="1146.6" y="768.6" style="fill: #882255"/>
     <use href="#m77076dbbe6" x="1145.88" y="772.92" style="fill: #882255"/>
    </g>
   </g>
   <g id="patch_13">
    <path d="M 162.360 885.240 L 162.360 693.000" style="fill: none; stroke: #000000; stroke-width: 0.72; stroke-linejoin: miter; stroke-linecap: square"/>
   </g>
   <g id="patch_14">
    <path d="M 1166.760 885.240 L 1166.760 693.000" style="fill: none; stroke: #000000; stroke-width: 0.72; stroke-linejoin: miter; stroke-linecap: square"/>
   </g>
   <g id="patch_15">
    <path d="M 162.360 885.240 L 1166.760 885.240" style="fill: none; stroke: #000000; stroke-width: 0.72; stroke-linejoin: miter; stroke-linecap: square"/>
   </g>
   <g id="patch_16">
    <path d="M 162.360 693.000 L 1166.760 693.000" style="fill: none; stroke: #000000; stroke-width: 0.72; stroke-linejoin: miter; stroke-linecap: square"/>
   </g>
  </g>
  <g id="axes_4">
   <g id="patch_17">
    <path d="M 162 1153.44 
L 1166.4 1153.44 
L 1166.4 961.532 
L 162 961.532 
z
" style="fill: #ffffff"/>
   </g>
   <g id="matplotlib.axis_7">
    <g id="xtick_20">
     <g id="line2d_32">
      <g>
       <use href="#mb72ec5ad28" x="205.560" y="1153.800" style="stroke: #000000; stroke-width: 0.72"/>
      </g>
     </g>
     <g id="text_34">
      <text style="font-size: 24px; font-family: 'DejaVu Sans', 'Liberation Sans', sans-serif; text-anchor: middle" x="205.2" y="1179.064">400</text>
     </g>
    </g>
    <g id="xtick_21">
     <g id="line2d_33">
      <g>
       <use href="#mb72ec5ad28" x="372.600" y="1153.800" style="stroke: #000000; stroke-width: 0.72"/>
      </g>
     </g>
     <g id="text_35">
      <text style="font-size: 24px; font-family: 'DejaVu Sans', 'Liberation Sans', sans-serif; text-anchor: middle" x="371.952" y="1179.064">500</text>
     </g>
    </g>
    <g id="xtick_22">
     <g id="line2d_34">
      <g>
       <use href="#mb72ec5ad28" x="538.920" y="1153.800" style="stroke: #000000; stroke-width: 0.72"/>
      </g>
     </g>
     <g id="text_36">
      <text style="font-size: 24px; font-family: 'DejaVu Sans', 'Liberation Sans', sans-serif; text-anchor: middle" x="538.704" y="1179.064">600</text>
     </g>
    </g>
    <g id="xtick_23">
     <g id="line2d_35">
      <g>
       <use href="#mb72ec5ad28" x="705.960" y="1153.800" style="stroke: #000000; stroke-width: 0.72"/>
      </g>
     </g>
     <g id="text_37">
      <text style="font-size: 24px; font-family: 'DejaVu Sans', 'Liberation Sans', sans-serif; text-anchor: middle" x="705.456" y="1179.064">700</text>
     </g>
    </g>
    <g id="xtick_24">
     <g id="line2d_36">
      <g>
       <use href="#mb72ec5ad28" x="872.280" y="1153.800" style="stroke: #000000; stroke-width: 0.72"/>
      </g>
     </g>
     <g id="text_38">
      <text style="font-size: 24px; font-family: 'DejaVu Sans', 'Liberation Sans', sans-serif; text-anchor: middle" x="872.208" y="1179.064">800</text>
     </g>
    </g>
    <g id="xtick_25">
     <g id="line2d_37">
      <g>
       <use href="#mb72ec5ad28" x="1039.320" y="1153.800" style="stroke: #000000; stroke-width: 0.72"/>
      </g>
     </g>
     <g id="text_39">
      <text style="font-size: 24px; font-family: 'DejaVu Sans', 'Liberation Sans', sans-serif; text-anchor: middle" x="1038.96" y="1179.064">900</text>
     </g>
    </g>
    <g id="text_40">
     <text style="font-size: 24px; font-family: 'DejaVu Sans', 'Liberation Sans', sans-serif; text-anchor: middle" x="664.200" y="1206.940">Julian Date</text>
    </g>
    <g id="text_41">
     <text style="font-size: 24px; font-family: 'DejaVu Sans', 'Liberation Sans', sans-serif; text-anchor: end" x="1166.4" y="1205.291">+2.4580000000e6</text>
    </g>
   </g>
   <g id="matplotlib.axis_8">
    <g id="ytick_7">
     <g id="line2d_38">
      <g>
       <use href="#m1af1ae3523" x="162.360" y="1132.920" style="stroke: #000000; stroke-width: 0.72"/>
      </g>
     </g>
     <g id="text_42">
      <text style="font-size: 24px; font-family: 'DejaVu Sans', 'Liberation Sans', sans-serif; text-anchor: end" x="154.612" y="1141.678">−0.5</text>
     </g>
    </g>
    <g id="ytick_8">
     <g id="line2d_39">
      <g>
       <use href="#m1af1ae3523" x="162.360" y="1035.720" style="stroke: #000000; stroke-width: 0.72"/>
      </g>
     </g>
     <g id="text_43">
      <text style="font-size: 24px; font-family: 'DejaVu Sans', 'Liberation Sans', sans-serif; text-anchor: end" x="154.612" y="1044.406">0.0</text>
     </g>
    </g>
    <g id="text_44">
     <text style="font-size: 24px; font-family: 'DejaVu Sans', 'Liberation Sans', sans-serif; text-anchor: middle" x="89.142" y="1061.086" transform="rotate(-90 89.142 1061.086)">Residuals</text>
    </g>
   </g>
   <g id="LineCollection_5">
    <path d="M 167.04 1027.606 
L 167.04 1056.073 
" clip-path="url(#pa1b535c05b)" style="fill: none; stroke: #117733; stroke-width: 1.44"/>
    <path d="M 170.64 1019.022 
L 170.64 1048.817 
" clip-path="url(#pa1b535c05b)" style="fill: none; stroke: #117733; stroke-width: 1.44"/>
    <path d="M 177.12 1012.312 
L 177.12 1042.855 
" clip-path="url(#pa1b535c05b)" style="fill: none; stroke: #117733; stroke-width: 1.44"/>
    <path d="M 252 1020.342 
L 252 1049.225 
" clip-path="url(#pa1b535c05b)" style="fill: none; stroke: #117733; stroke-width: 1.44"/>
    <path d="M 256.32 1030.912 
L 256.32 1053.487 
" clip-path="url(#pa1b535c05b)" style="fill: none; stroke: #117733; stroke-width: 1.44"/>
    <path d="M 257.04 1035.437 
L 257.04 1053.282 
" clip-path="url(#pa1b535c05b)" style="fill: none; stroke: #117733; stroke-width: 1.44"/>
    <path d="M 263.52 1028.894 
L 263.52 1059.105 
" clip-path="url(#pa1b535c05b)" style="fill: none; stroke: #117733; stroke-width: 1.44"/>
    <path d="M 268.56 1025.049 
L 268.56 1064.390 
" clip-path="url(#pa1b535c05b)" style="fill: none; stroke: #117733; stroke-width: 1.44"/>
    <path d="M 266.4 1023.523 
L 266.4 1056.556 
" clip-path="url(#pa1b535c05b)" style="fill: none; stroke: #117733; stroke-width: 1.44"/>
    <path d="M 269.28 1038.737 
L 269.28 1064.382 
" clip-path="url(#pa1b535c05b)" style="fill: none; stroke: #117733; stroke-width: 1.44"/>
    <path d="M 378 999.039 
L 378 1069.088 
" clip-path="url(#pa1b535c05b)" style="fill: none; stroke: #117733; stroke-width: 1.44"/>
    <path d="M 728.64 1074.410 
L 728.64 1152.261 
" clip-path="url(#pa1b535c05b)" style="fill: none; stroke: #117733; stroke-width: 1.44"/>
    <path d="M 750.24 1021.983 
L 750.24 1083.152 
" clip-path="url(#pa1b535c05b)" style="fill: none; stroke: #117733; stroke-width: 1.44"/>
    <path d="M 761.76 962.473 
L 761.76 1047.046 
" clip-path="url(#pa1b535c05b)" style="fill: none; stroke: #117733; stroke-width: 1.44"/>
    <path d="M 766.8 995.471 
L 766.8 1062.864 
" clip-path="url(#pa1b535c05b)" style="fill: none; stroke: #117733; stroke-width: 1.44"/>
    <path d="M 781.92 975.187 
L 781.92 1054.780 
" clip-path="url(#pa1b535c05b)" style="fill: none; stroke: #117733; stroke-width: 1.44"/>
    <path d="M 783.36 1025.943 
L 783.36 1080.056 
" clip-path="url(#pa1b535c05b)" style="fill: none; stroke: #117733; stroke-width: 1.44"/>
    <path d="M 792 991.528 
L 792 1047.799 
" clip-path="url(#pa1b535c05b)" style="fill: none; stroke: #117733; stroke-width: 1.44"/>
    <path d="M 800.64 992.148 
L 800.64 1047.755 
" clip-path="url(#pa1b535c05b)" style="fill: none; stroke: #117733; stroke-width: 1.44"/>
    <path d="M 804.96 970.911 
L 804.96 1028.096 
" clip-path="url(#pa1b535c05b)" style="fill: none; stroke: #117733; stroke-width: 1.44"/>
    <path d="M 803.52 1004.403 
L 803.52 1068.476 
" clip-path="url(#pa1b535c05b)" style="fill: none; stroke: #117733; stroke-width: 1.44"/>
    <path d="M 803.52 1029.263 
L 803.52 1083.792 
" clip-path="url(#pa1b535c05b)" style="fill: none; stroke: #117733; stroke-width: 1.44"/>
    <path d="M 799.92 1020.690 
L 799.92 1081.277 
" clip-path="url(#pa1b535c05b)" style="fill: none; stroke: #117733; stroke-width: 1.44"/>
    <path d="M 812.16 992.980 
L 812.16 1041.451 
" clip-path="url(#pa1b535c05b)" style="fill: none; stroke: #117733; stroke-width: 1.44"/>
    <path d="M 812.16 1011.952 
L 812.16 1054.447 
" clip-path="url(#pa1b535c05b)" style="fill: none; stroke: #117733; stroke-width: 1.44"/>
    <path d="M 817.2 990.851 
L 817.2 1051.356 
" clip-path="url(#pa1b535c05b)" style="fill: none; stroke: #117733; stroke-width: 1.44"/>
    <path d="M 837.36 966.910 
L 837.36 1041.025 
" clip-path="url(#pa1b535c05b)" style="fill: none; stroke: #117733; stroke-width: 1.44"/>
    <path d="M 848.88 984.452 
L 848.88 1040.475 
" clip-path="url(#pa1b535c05b)" style="fill: none; stroke: #117733; stroke-width: 1.44"/>
    <path d="M 851.76 966.470 
L 851.76 1042.329 
" clip-path="url(#pa1b535c05b)" style="fill: none; stroke: #117733; stroke-width: 1.44"/>
    <path d="M 851.76 1005.717 
L 851.76 1067.882 
" clip-path="url(#pa1b535c05b)" style="fill: none; stroke: #117733; stroke-width: 1.44"/>
    <path d="M 853.92 1021.912 
L 853.92 1073.287 
" clip-path="url(#pa1b535c05b)" style="fill: none; stroke: #117733; stroke-width: 1.44"/>
    <path d="M 856.8 993.873 
L 856.8 1043.006 
" clip-path="url(#pa1b535c05b)" style="fill: none; stroke: #117733; stroke-width: 1.44"/>
    <path d="M 858.96 1013.448 
L 858.96 1057.271 
" clip-path="url(#pa1b535c05b)" style="fill: none; stroke: #117733; stroke-width: 1.44"/>
    <path d="M 854.64 1023.608 
L 854.64 1060.791 
" clip-path="url(#pa1b535c05b)" style="fill: none; stroke: #117733; stroke-width: 1.44"/>
    <path d="M 866.88 1020.000 
L 866.88 1068.719 
" clip-path="url(#pa1b535c05b)" style="fill: none; stroke: #117733; stroke-width: 1.44"/>
    <path d="M 876.96 1003.803 
L 876.96 1075.844 
" clip-path="url(#pa1b535c05b)" style="fill: none; stroke: #117733; stroke-width: 1.44"/>
    <path d="M 893.52 1033.506 
L 893.52 1065.293 
" clip-path="url(#pa1b535c05b)" style="fill: none; stroke: #117733; stroke-width: 1.44"/>
    <path d="M 906.48 1008.868 
L 906.48 1075.099 
" clip-path="url(#pa1b535c05b)" style="fill: none; stroke: #117733; stroke-width: 1.44"/>
    <path d="M 920.88 995.230 
L 920.88 1051.585 
" clip-path="url(#pa1b535c05b)" style="fill: none; stroke: #117733; stroke-width: 1.44"/>
    <path d="M 934.56 1025.374 
L 934.56 1048.945 
" clip-path="url(#pa1b535c05b)" style="fill: none; stroke: #117733; stroke-width: 1.44"/>
    <path d="M 949.68 1032.780 
L 949.68 1058.675 
" clip-path="url(#pa1b535c05b)" style="fill: none; stroke: #117733; stroke-width: 1.44"/>
    <path d="M 961.2 1031.145 
L 961.2 1049.654 
" clip-path="url(#pa1b535c05b)" style="fill: none; stroke: #117733; stroke-width: 1.44"/>
    <path d="M 964.08 1008.911 
L 964.08 1043.520 
" clip-path="url(#pa1b535c05b)" style="fill: none; stroke: #117733; stroke-width: 1.44"/>
    <path d="M 960.48 1029.871 
L 960.48 1048.048 
" clip-path="url(#pa1b535c05b)" style="fill: none; stroke: #117733; stroke-width: 1.44"/>
    <path d="M 984.96 1031.814 
L 984.96 1052.729 
" clip-path="url(#pa1b535c05b)" style="fill: none; stroke: #117733; stroke-width: 1.44"/>
    <path d="M 1018.08 1006.822 
L 1018.08 1046.329 
" clip-path="url(#pa1b535c05b)" style="fill: none; stroke: #117733; stroke-width: 1.44"/>
    <path d="M 1023.12 990.685 
L 1023.12 1051.522 
" clip-path="url(#pa1b535c05b)" style="fill: none; stroke: #117733; stroke-width: 1.44"/>
    <path d="M 1029.6 1006.117 
L 1029.6 1035.082 
" clip-path="url(#pa1b535c05b)" style="fill: none; stroke: #117733; stroke-width: 1.44"/>
    <path d="M 1038.24 1008.654 
L 1038.24 1045.505 
" clip-path="url(#pa1b535c05b)" style="fill: none; stroke: #117733; stroke-width: 1.44"/>
    <path d="M 1036.8 1020.272 
L 1036.8 1058.367 
" clip-path="url(#pa1b535c05b)" style="fill: none; stroke: #117733; stroke-width: 1.44"/>
    <path d="M 1044.72 1018.068 
L 1044.72 1051.931 
" clip-path="url(#pa1b535c05b)" style="fill: none; stroke: #117733; stroke-width: 1.44"/>
    <path d="M 1044.72 1023.330 
L 1044.72 1058.189 
" clip-path="url(#pa1b535c05b)" style="fill: none; stroke: #117733; stroke-width: 1.44"/>
    <path d="M 1054.8 999.493 
L 1054.8 1074.106 
" clip-path="url(#pa1b535c05b)" style="fill: none; stroke: #117733; stroke-width: 1.44"/>
    <path d="M 1064.88 1010.553 
L 1064.88 1067.654 
" clip-path="url(#pa1b535c05b)" style="fill: none; stroke: #117733; stroke-width: 1.44"/>
    <path d="M 1146.24 1010.838 
L 1146.24 1061.465 
" clip-path="url(#pa1b535c05b)" style="fill: none; stroke: #117733; stroke-width: 1.44"/>
   </g>
   <g id="LineCollection_6">
    <path d="M 254.88 1025.301 
L 254.88 1041.818 
" clip-path="url(#pa1b535c05b)" style="fill: none; stroke: #882255; stroke-width: 1.44"/>
    <path d="M 259.92 1037.825 
L 259.92 1057.662 
" clip-path="url(#pa1b535c05b)" style="fill: none; stroke: #882255; stroke-width: 1.44"/>
    <path d="M 263.52 1045.243 
L 263.52 1069.396 
" clip-path="url(#pa1b535c05b)" style="fill: none; stroke: #882255; stroke-width: 1.44"/>
    <path d="M 268.56 1029.626 
L 268.56 1054.773 
" clip-path="url(#pa1b535c05b)" style="fill: none; stroke: #882255; stroke-width: 1.44"/>
    <path d="M 268.56 1048.771 
L 268.56 1065.868 
" clip-path="url(#pa1b535c05b)" style="fill: none; stroke: #882255; stroke-width: 1.44"/>
    <path d="M 285.12 1020.323 
L 285.12 1048.956 
" clip-path="url(#pa1b535c05b)" style="fill: none; stroke: #882255; stroke-width: 1.44"/>
    <path d="M 298.08 1009.396 
L 298.08 1038.859 
" clip-path="url(#pa1b535c05b)" style="fill: none; stroke: #882255; stroke-width: 1.44"/>
    <path d="M 308.16 1025.878 
L 308.16 1049.449 
" clip-path="url(#pa1b535c05b)" style="fill: none; stroke: #882255; stroke-width: 1.44"/>
    <path d="M 313.2 1006.316 
L 313.2 1034.451 
" clip-path="url(#pa1b535c05b)" style="fill: none; stroke: #882255; stroke-width: 1.44"/>
    <path d="M 356.4 1006.677 
L 356.4 1036.970 
" clip-path="url(#pa1b535c05b)" style="fill: none; stroke: #882255; stroke-width: 1.44"/>
    <path d="M 361.44 1001.229 
L 361.44 1035.506 
" clip-path="url(#pa1b535c05b)" style="fill: none; stroke: #882255; stroke-width: 1.44"/>
    <path d="M 750.24 1031.088 
L 750.24 1074.911 
" clip-path="url(#pa1b535c05b)" style="fill: none; stroke: #882255; stroke-width: 1.44"/>
    <path d="M 761.76 984.046 
L 761.76 1041.313 
" clip-path="url(#pa1b535c05b)" style="fill: none; stroke: #882255; stroke-width: 1.44"/>
    <path d="M 766.8 1018.686 
L 766.8 1059.521 
" clip-path="url(#pa1b535c05b)" style="fill: none; stroke: #882255; stroke-width: 1.44"/>
    <path d="M 781.92 1019.039 
L 781.92 1073.568 
" clip-path="url(#pa1b535c05b)" style="fill: none; stroke: #882255; stroke-width: 1.44"/>
    <path d="M 800.64 1003.915 
L 800.64 1054.708 
" clip-path="url(#pa1b535c05b)" style="fill: none; stroke: #882255; stroke-width: 1.44"/>
    <path d="M 805.68 997.106 
L 805.68 1033.293 
" clip-path="url(#pa1b535c05b)" style="fill: none; stroke: #882255; stroke-width: 1.44"/>
    <path d="M 800.64 1011.972 
L 800.64 1049.819 
" clip-path="url(#pa1b535c05b)" style="fill: none; stroke: #882255; stroke-width: 1.44"/>
    <path d="M 817.2 991.687 
L 817.2 1034.680 
" clip-path="url(#pa1b535c05b)" style="fill: none; stroke: #882255; stroke-width: 1.44"/>
    <path d="M 836.64 997.549 
L 836.64 1050.418 
" clip-path="url(#pa1b535c05b)" style="fill: none; stroke: #882255; stroke-width: 1.44"/>
    <path d="M 841.68 1031.760 
L 841.68 1101.311 
" clip-path="url(#pa1b535c05b)" style="fill: none; stroke: #882255; stroke-width: 1.44"/>
    <path d="M 846.72 996.755 
L 846.72 1057.260 
" clip-path="url(#pa1b535c05b)" style="fill: none; stroke: #882255; stroke-width: 1.44"/>
    <path d="M 848.88 994.941 
L 848.88 1037.186 
" clip-path="url(#pa1b535c05b)" style="fill: none; stroke: #882255; stroke-width: 1.44"/>
    <path d="M 858.96 1011.762 
L 858.96 1050.605 
" clip-path="url(#pa1b535c05b)" style="fill: none; stroke: #882255; stroke-width: 1.44"/>
    <path d="M 851.76 1012.228 
L 851.76 1052.731 
" clip-path="url(#pa1b535c05b)" style="fill: none; stroke: #882255; stroke-width: 1.44"/>
    <path d="M 853.92 1013.446 
L 853.92 1052.953 
" clip-path="url(#pa1b535c05b)" style="fill: none; stroke: #882255; stroke-width: 1.44"/>
    <path d="M 856.8 1011.441 
L 856.8 1055.678 
" clip-path="url(#pa1b535c05b)" style="fill: none; stroke: #882255; stroke-width: 1.44"/>
    <path d="M 861.84 1017.466 
L 861.84 1054.981 
" clip-path="url(#pa1b535c05b)" style="fill: none; stroke: #882255; stroke-width: 1.44"/>
    <path d="M 866.88 990.664 
L 866.88 1037.143 
" clip-path="url(#pa1b535c05b)" style="fill: none; stroke: #882255; stroke-width: 1.44"/>
    <path d="M 866.88 1032.234 
L 866.88 1068.005 
" clip-path="url(#pa1b535c05b)" style="fill: none; stroke: #882255; stroke-width: 1.44"/>
    <path d="M 883.44 1010.938 
L 883.44 1045.381 
" clip-path="url(#pa1b535c05b)" style="fill: none; stroke: #882255; stroke-width: 1.44"/>
    <path d="M 883.44 1014.468 
L 883.44 1048.331 
" clip-path="url(#pa1b535c05b)" style="fill: none; stroke: #882255; stroke-width: 1.44"/>
    <path d="M 893.52 1025.523 
L 893.52 1059.884 
" clip-path="url(#pa1b535c05b)" style="fill: none; stroke: #882255; stroke-width: 1.44"/>
    <path d="M 918 1028.328 
L 918 1051.319 
" clip-path="url(#pa1b535c05b)" style="fill: none; stroke: #882255; stroke-width: 1.44"/>
    <path d="M 928.8 1009.264 
L 928.8 1047.775 
" clip-path="url(#pa1b535c05b)" style="fill: none; stroke: #882255; stroke-width: 1.44"/>
    <path d="M 928.8 1022.911 
L 928.8 1049.968 
" clip-path="url(#pa1b535c05b)" style="fill: none; stroke: #882255; stroke-width: 1.44"/>
    <path d="M 928.8 1033.860 
L 928.8 1054.859 
" clip-path="url(#pa1b535c05b)" style="fill: none; stroke: #882255; stroke-width: 1.44"/>
    <path d="M 928.8 1036.187 
L 928.8 1059.012 
" clip-path="url(#pa1b535c05b)" style="fill: none; stroke: #882255; stroke-width: 1.44"/>
    <path d="M 933.84 1020.737 
L 933.84 1046.382 
" clip-path="url(#pa1b535c05b)" style="fill: none; stroke: #882255; stroke-width: 1.44"/>
    <path d="M 933.84 1028.241 
L 933.84 1052.559 
" clip-path="url(#pa1b535c05b)" style="fill: none; stroke: #882255; stroke-width: 1.44"/>
    <path d="M 956.88 1020.513 
L 956.88 1047.902 
" clip-path="url(#pa1b535c05b)" style="fill: none; stroke: #882255; stroke-width: 1.44"/>
    <path d="M 959.04 1031.810 
L 959.04 1051.149 
" clip-path="url(#pa1b535c05b)" style="fill: none; stroke: #882255; stroke-width: 1.44"/>
    <path d="M 963.36 1022.842 
L 963.36 1049.317 
" clip-path="url(#pa1b535c05b)" style="fill: none; stroke: #882255; stroke-width: 1.44"/>
    <path d="M 964.8 1028.459 
L 964.8 1047.300 
" clip-path="url(#pa1b535c05b)" style="fill: none; stroke: #882255; stroke-width: 1.44"/>
    <path d="M 973.44 1045.152 
L 973.44 1064.159 
" clip-path="url(#pa1b535c05b)" style="fill: none; stroke: #882255; stroke-width: 1.44"/>
    <path d="M 973.44 1038.630 
L 973.44 1062.617 
" clip-path="url(#pa1b535c05b)" style="fill: none; stroke: #882255; stroke-width: 1.44"/>
    <path d="M 977.04 1026.702 
L 977.04 1047.617 
" clip-path="url(#pa1b535c05b)" style="fill: none; stroke: #882255; stroke-width: 1.44"/>
    <path d="M 978.48 1028.562 
L 978.48 1059.437 
" clip-path="url(#pa1b535c05b)" style="fill: none; stroke: #882255; stroke-width: 1.44"/>
    <path d="M 984.96 1036.383 
L 984.96 1056.800 
" clip-path="url(#pa1b535c05b)" style="fill: none; stroke: #882255; stroke-width: 1.44"/>
    <path d="M 1018.08 1034.224 
L 1018.08 1061.695 
" clip-path="url(#pa1b535c05b)" style="fill: none; stroke: #882255; stroke-width: 1.44"/>
    <path d="M 1023.12 1022.942 
L 1023.12 1057.137 
" clip-path="url(#pa1b535c05b)" style="fill: none; stroke: #882255; stroke-width: 1.44"/>
    <path d="M 1029.6 1015.806 
L 1029.6 1039.793 
" clip-path="url(#pa1b535c05b)" style="fill: none; stroke: #882255; stroke-width: 1.44"/>
    <path d="M 1029.6 1027.934 
L 1029.6 1049.265 
" clip-path="url(#pa1b535c05b)" style="fill: none; stroke: #882255; stroke-width: 1.44"/>
    <path d="M 1036.08 1002.294 
L 1036.08 1056.905 
" clip-path="url(#pa1b535c05b)" style="fill: none; stroke: #882255; stroke-width: 1.44"/>
    <path d="M 1039.68 1020.362 
L 1039.68 1044.597 
" clip-path="url(#pa1b535c05b)" style="fill: none; stroke: #882255; stroke-width: 1.44"/>
    <path d="M 1036.8 1018.701 
L 1036.8 1044.098 
" clip-path="url(#pa1b535c05b)" style="fill: none; stroke: #882255; stroke-width: 1.44"/>
    <path d="M 1044.72 1017.552 
L 1044.72 1042.367 
" clip-path="url(#pa1b535c05b)" style="fill: none; stroke: #882255; stroke-width: 1.44"/>
    <path d="M 1054.8 1008.104 
L 1054.8 1053.255 
" clip-path="url(#pa1b535c05b)" style="fill: none; stroke: #882255; stroke-width: 1.44"/>
    <path d="M 1054.8 1015.566 
L 1054.8 1057.313 
" clip-path="url(#pa1b535c05b)" style="fill: none; stroke: #882255; stroke-width: 1.44"/>
    <path d="M 1131.84 1013.651 
L 1131.84 1063.116 
" clip-path="url(#pa1b535c05b)" style="fill: none; stroke: #882255; stroke-width: 1.44"/>
    <path d="M 1161.36 1003.349 
L 1161.36 1058.874 
" clip-path="url(#pa1b535c05b)" style="fill: none; stroke: #882255; stroke-width: 1.44"/>
   </g>
   <g id="line2d_40">
    <path d="M 162 1035.36 
L 1166.4 1035.36 
" clip-path="url(#pa1b535c05b)" style="fill: none; stroke-dasharray: 5.55,2.4; stroke-dashoffset: 0; stroke: #000000; stroke-width: 1.44"/>
   </g>
   <g id="line2d_41">
    <g clip-path="url(#pa1b535c05b)">
     <use href="#m9075a9afd1" x="167.4" y="1042.2" style="fill: #117733"/>
     <use href="#m9075a9afd1" x="171" y="1034.28" style="fill: #117733"/>
     <use href="#m9075a9afd1" x="177.48" y="1027.8" style="fill: #117733"/>
     <use href="#m9075a9afd1" x="252.36" y="1035" style="fill: #117733"/>
     <use href="#m9075a9afd1" x="256.68" y="1042.2" style="fill: #117733"/>
     <use href="#m9075a9afd1" x="257.4" y="1044.36" style="fill: #117733"/>
     <use href="#m9075a9afd1" x="263.88" y="1044.36" style="fill: #117733"/>
     <use href="#m9075a9afd1" x="268.92" y="1045.08" style="fill: #117733"/>
     <use href="#m9075a9afd1" x="266.76" y="1040.04" style="fill: #117733"/>
     <use href="#m9075a9afd1" x="269.64" y="1051.56" style="fill: #117733"/>
     <use href="#m9075a9afd1" x="378.36" y="1034.28" style="fill: #117733"/>
     <use href="#m9075a9afd1" x="729" y="1113.48" style="fill: #117733"/>
     <use href="#m9075a9afd1" x="750.6" y="1052.28" style="fill: #117733"/>
     <use href="#m9075a9afd1" x="762.12" y="1004.76" style="fill: #117733"/>
     <use href="#m9075a9afd1" x="767.16" y="1029.24" style="fill: #117733"/>
     <use href="#m9075a9afd1" x="782.28" y="1014.84" style="fill: #117733"/>
     <use href="#m9075a9afd1" x="783.72" y="1053" style="fill: #117733"/>
     <use href="#m9075a9afd1" x="792.36" y="1019.88" style="fill: #117733"/>
     <use href="#m9075a9afd1" x="801" y="1019.88" style="fill: #117733"/>
     <use href="#m9075a9afd1" x="805.32" y="999.72" style="fill: #117733"/>
     <use href="#m9075a9afd1" x="803.88" y="1036.44" style="fill: #117733"/>
     <use href="#m9075a9afd1" x="803.88" y="1056.6" style="fill: #117733"/>
     <use href="#m9075a9afd1" x="800.28" y="1050.84" style="fill: #117733"/>
     <use href="#m9075a9afd1" x="812.52" y="1017" style="fill: #117733"/>
     <use href="#m9075a9afd1" x="812.52" y="1033.56" style="fill: #117733"/>
     <use href="#m9075a9afd1" x="817.56" y="1021.32" style="fill: #117733"/>
     <use href="#m9075a9afd1" x="837.72" y="1004.04" style="fill: #117733"/>
     <use href="#m9075a9afd1" x="849.24" y="1012.68" style="fill: #117733"/>
     <use href="#m9075a9afd1" x="852.12" y="1004.76" style="fill: #117733"/>
     <use href="#m9075a9afd1" x="852.12" y="1037.16" style="fill: #117733"/>
     <use href="#m9075a9afd1" x="854.28" y="1047.96" style="fill: #117733"/>
     <use href="#m9075a9afd1" x="857.16" y="1018.44" style="fill: #117733"/>
     <use href="#m9075a9afd1" x="859.32" y="1035.72" style="fill: #117733"/>
     <use href="#m9075a9afd1" x="855" y="1042.2" style="fill: #117733"/>
     <use href="#m9075a9afd1" x="867.24" y="1044.36" style="fill: #117733"/>
     <use href="#m9075a9afd1" x="877.32" y="1040.04" style="fill: #117733"/>
     <use href="#m9075a9afd1" x="893.88" y="1049.4" style="fill: #117733"/>
     <use href="#m9075a9afd1" x="906.84" y="1042.2" style="fill: #117733"/>
     <use href="#m9075a9afd1" x="921.24" y="1023.48" style="fill: #117733"/>
     <use href="#m9075a9afd1" x="934.92" y="1037.16" style="fill: #117733"/>
     <use href="#m9075a9afd1" x="950.04" y="1045.8" style="fill: #117733"/>
     <use href="#m9075a9afd1" x="961.56" y="1040.76" style="fill: #117733"/>
     <use href="#m9075a9afd1" x="964.44" y="1026.36" style="fill: #117733"/>
     <use href="#m9075a9afd1" x="960.84" y="1039.32" style="fill: #117733"/>
     <use href="#m9075a9afd1" x="985.32" y="1042.2" style="fill: #117733"/>
     <use href="#m9075a9afd1" x="1018.44" y="1026.36" style="fill: #117733"/>
     <use href="#m9075a9afd1" x="1023.48" y="1021.32" style="fill: #117733"/>
     <use href="#m9075a9afd1" x="1029.96" y="1020.6" style="fill: #117733"/>
     <use href="#m9075a9afd1" x="1038.6" y="1027.08" style="fill: #117733"/>
     <use href="#m9075a9afd1" x="1037.16" y="1039.32" style="fill: #117733"/>
     <use href="#m9075a9afd1" x="1045.08" y="1035" style="fill: #117733"/>
     <use href="#m9075a9afd1" x="1045.08" y="1040.76" style="fill: #117733"/>
     <use href="#m9075a9afd1" x="1055.16" y="1037.16" style="fill: #117733"/>
     <use href="#m9075a9afd1" x="1065.24" y="1039.32" style="fill: #117733"/>
     <use href="#m9075a9afd1" x="1146.6" y="1036.44" style="fill: #117733"/>
    </g>
   </g>
   <g id="line2d_42">
    <g clip-path="url(#pa1b535c05b)">
     <use href="#m77076dbbe6" x="255.24" y="1033.56" style="fill: #882255"/>
     <use href="#m77076dbbe6" x="260.28" y="1047.96" style="fill: #882255"/>
     <use href="#m77076dbbe6" x="263.88" y="1057.32" style="fill: #882255"/>
     <use href="#m77076dbbe6" x="268.92" y="1042.2" style="fill: #882255"/>
     <use href="#m77076dbbe6" x="268.92" y="1057.32" style="fill: #882255"/>
     <use href="#m77076dbbe6" x="285.48" y="1035" style="fill: #882255"/>
     <use href="#m77076dbbe6" x="298.44" y="1024.2" style="fill: #882255"/>
     <use href="#m77076dbbe6" x="308.52" y="1037.88" style="fill: #882255"/>
     <use href="#m77076dbbe6" x="313.56" y="1020.6" style="fill: #882255"/>
     <use href="#m77076dbbe6" x="356.76" y="1022.04" style="fill: #882255"/>
     <use href="#m77076dbbe6" x="361.8" y="1018.44" style="fill: #882255"/>
     <use href="#m77076dbbe6" x="750.6" y="1053" style="fill: #882255"/>
     <use href="#m77076dbbe6" x="762.12" y="1012.68" style="fill: #882255"/>
     <use href="#m77076dbbe6" x="767.16" y="1039.32" style="fill: #882255"/>
     <use href="#m77076dbbe6" x="782.28" y="1046.52" style="fill: #882255"/>
     <use href="#m77076dbbe6" x="801" y="1029.24" style="fill: #882255"/>
     <use href="#m77076dbbe6" x="806.04" y="1015.56" style="fill: #882255"/>
     <use href="#m77076dbbe6" x="801" y="1030.68" style="fill: #882255"/>
     <use href="#m77076dbbe6" x="817.56" y="1013.4" style="fill: #882255"/>
     <use href="#m77076dbbe6" x="837" y="1024.2" style="fill: #882255"/>
     <use href="#m77076dbbe6" x="842.04" y="1066.68" style="fill: #882255"/>
     <use href="#m77076dbbe6" x="847.08" y="1027.08" style="fill: #882255"/>
     <use href="#m77076dbbe6" x="849.24" y="1016.28" style="fill: #882255"/>
     <use href="#m77076dbbe6" x="859.32" y="1031.4" style="fill: #882255"/>
     <use href="#m77076dbbe6" x="852.12" y="1032.84" style="fill: #882255"/>
     <use href="#m77076dbbe6" x="854.28" y="1033.56" style="fill: #882255"/>
     <use href="#m77076dbbe6" x="857.16" y="1033.56" style="fill: #882255"/>
     <use href="#m77076dbbe6" x="862.2" y="1036.44" style="fill: #882255"/>
     <use href="#m77076dbbe6" x="867.24" y="1014.12" style="fill: #882255"/>
     <use href="#m77076dbbe6" x="867.24" y="1050.12" style="fill: #882255"/>
     <use href="#m77076dbbe6" x="883.8" y="1028.52" style="fill: #882255"/>
     <use href="#m77076dbbe6" x="883.8" y="1031.4" style="fill: #882255"/>
     <use href="#m77076dbbe6" x="893.88" y="1042.92" style="fill: #882255"/>
     <use href="#m77076dbbe6" x="918.36" y="1040.04" style="fill: #882255"/>
     <use href="#m77076dbbe6" x="929.16" y="1028.52" style="fill: #882255"/>
     <use href="#m77076dbbe6" x="929.16" y="1036.44" style="fill: #882255"/>
     <use href="#m77076dbbe6" x="929.16" y="1044.36" style="fill: #882255"/>
     <use href="#m77076dbbe6" x="929.16" y="1047.96" style="fill: #882255"/>
     <use href="#m77076dbbe6" x="934.2" y="1033.56" style="fill: #882255"/>
     <use href="#m77076dbbe6" x="934.2" y="1040.76" style="fill: #882255"/>
     <use href="#m77076dbbe6" x="957.24" y="1034.28" style="fill: #882255"/>
     <use href="#m77076dbbe6" x="959.4" y="1041.48" style="fill: #882255"/>
     <use href="#m77076dbbe6" x="963.72" y="1036.44" style="fill: #882255"/>
     <use href="#m77076dbbe6" x="965.16" y="1037.88" style="fill: #882255"/>
     <use href="#m77076dbbe6" x="973.8" y="1054.44" style="fill: #882255"/>
     <use href="#m77076dbbe6" x="973.8" y="1050.84" style="fill: #882255"/>
     <use href="#m77076dbbe6" x="977.4" y="1037.16" style="fill: #882255"/>
     <use href="#m77076dbbe6" x="978.84" y="1044.36" style="fill: #882255"/>
     <use href="#m77076dbbe6" x="985.32" y="1046.52" style="fill: #882255"/>
     <use href="#m77076dbbe6" x="1018.44" y="1047.96" style="fill: #882255"/>
     <use href="#m77076dbbe6" x="1023.48" y="1040.04" style="fill: #882255"/>
     <use href="#m77076dbbe6" x="1029.96" y="1027.8" style="fill: #882255"/>
     <use href="#m77076dbbe6" x="1029.96" y="1038.6" style="fill: #882255"/>
     <use href="#m77076dbbe6" x="1036.44" y="1029.96" style="fill: #882255"/>
     <use href="#m77076dbbe6" x="1040.04" y="1032.84" style="fill: #882255"/>
     <use href="#m77076dbbe6" x="1037.16" y="1031.4" style="fill: #882255"/>
     <use href="#m77076dbbe6" x="1045.08" y="1029.96" style="fill: #882255"/>
     <use href="#m77076dbbe6" x="1055.16" y="1030.68" style="fill: #882255"/>
     <use href="#m77076dbbe6" x="1055.16" y="1036.44" style="fill: #882255"/>
     <use href="#m77076dbbe6" x="1132.2" y="1038.6" style="fill: #882255"/>
     <use href="#m77076dbbe6" x="1161.72" y="1031.4" style="fill: #882255"/>
    </g>
   </g>
   <g id="patch_18">
    <path d="M 162.360 1153.800 L 162.360 961.560" style="fill: none; stroke: #000000; stroke-width: 0.72; stroke-linejoin: miter; stroke-linecap: square"/>
   </g>
   <g id="patch_19">
    <path d="M 1166.760 1153.800 L 1166.760 961.560" style="fill: none; stroke: #000000; stroke-width: 0.72; stroke-linejoin: miter; stroke-linecap: square"/>
   </g>
   <g id="patch_20">
    <path d="M 162.360 1153.800 L 1166.760 1153.800" style="fill: none; stroke: #000000; stroke-width: 0.72; stroke-linejoin: miter; stroke-linecap: square"/>
   </g>
   <g id="patch_21">
    <path d="M 162.360 961.560 L 1166.760 961.560" style="fill: none; stroke: #000000; stroke-width: 0.72; stroke-linejoin: miter; stroke-linecap: square"/>
   </g>
  </g>
  <g id="text_45">
   <text style="font-size: 28.8px; font-family: 'DejaVu Sans', 'Liberation Sans', sans-serif; text-anchor: middle" x="648" y="47.803">9201 Light Curve Plots</text>
  </g>
 </g>
 <defs>
  <clipPath id="p9b063a7ad4">
   <rect x="162" y="155.52" width="1004.4" height="191.907"/>
  </clipPath>
  <clipPath id="pa5b05408b6">
   <rect x="162" y="424.190" width="1004.4" height="191.907"/>
  </clipPath>
  <clipPath id="p22a861c171">
   <rect x="162" y="692.861" width="1004.4" height="191.907"/>
  </clipPath>
  <clipPath id="pa1b535c05b">
   <rect x="162" y="961.532" width="1004.4" height="191.907"/>
  </clipPath>
 </defs>
</svg>

</body></html>
